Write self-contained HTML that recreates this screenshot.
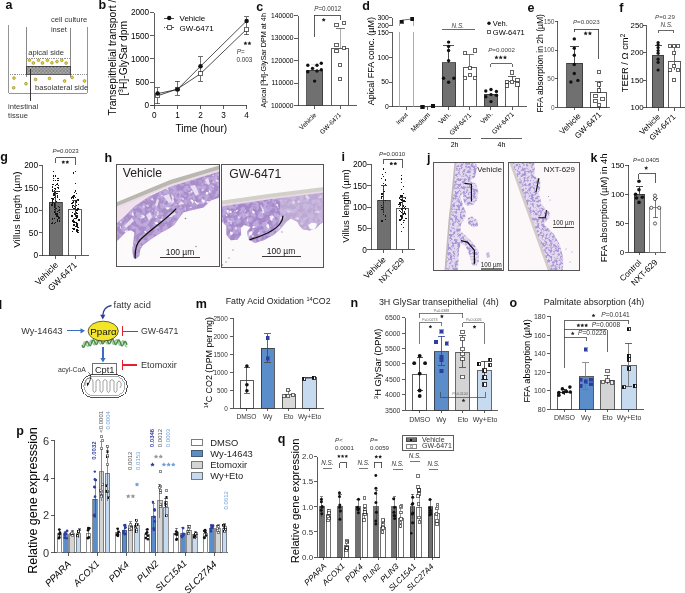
<!DOCTYPE html>
<html><head><meta charset="utf-8"><style>
html,body{margin:0;padding:0;background:#fff;}
svg{display:block;}
text{font-family:"Liberation Sans", sans-serif;}
line,polyline,rect{shape-rendering:crispEdges;}
.aa{shape-rendering:auto !important;}
svg{will-change:transform;}
</style></head><body>
<svg width="685" height="593" viewBox="0 0 685 593" font-family='"Liberation Sans", sans-serif'>
<defs>
<filter id="wsp" x="0" y="0" width="1" height="1" filterUnits="objectBoundingBox"><feTurbulence type="fractalNoise" baseFrequency="0.2" numOctaves="2" seed="3"/><feColorMatrix type="matrix" values="0 0 0 0 0.95  0 0 0 0 0.91  0 0 0 0 0.96  -7 0 0 0 2.6"/></filter>
<filter id="dsp" x="0" y="0" width="1" height="1" filterUnits="objectBoundingBox"><feTurbulence type="fractalNoise" baseFrequency="0.22" numOctaves="2" seed="9"/><feColorMatrix type="matrix" values="0 0 0 0 0.52  0 0 0 0 0.40  0 0 0 0 0.72  -5 0 0 0 2.95"/></filter>
<filter id="jsp" x="0" y="0" width="1" height="1" filterUnits="objectBoundingBox"><feTurbulence type="fractalNoise" baseFrequency="0.38" numOctaves="2" seed="5"/><feColorMatrix type="matrix" values="0 0 0 0 0.40  0 0 0 0 0.31  0 0 0 0 0.68  -6 0 0 0 3.3"/></filter>
<pattern id="mottleA" width="8" height="8" patternUnits="userSpaceOnUse" patternTransform="rotate(-25)"><rect width="8" height="8" fill="#b098cd"/><ellipse cx="2" cy="2" rx="1.8" ry="1.2" fill="#9c82c2"/><ellipse cx="6" cy="5.5" rx="1.6" ry="1" fill="#c4aed9"/><circle cx="6.8" cy="1.6" r="0.8" fill="#e4d8ec"/><circle cx="2.5" cy="6.5" r="0.9" fill="#a48ac6"/><circle cx="4.5" cy="3.5" r="0.5" fill="#ecdff0"/></pattern>
<pattern id="mottleB" width="4.5" height="4.5" patternUnits="userSpaceOnUse" patternTransform="rotate(15)"><rect width="4.5" height="4.5" fill="#a990ca"/><circle cx="1.3" cy="1.3" r="1.0" fill="#9074bc"/><circle cx="3.4" cy="3.3" r="0.8" fill="#e2d6ec"/><circle cx="3.9" cy="0.8" r="0.5" fill="#f0e8f3"/><circle cx="1.1" cy="3.9" r="0.5" fill="#c4aedb"/></pattern>
<pattern id="mottleC" width="4.5" height="4.5" patternUnits="userSpaceOnUse" patternTransform="rotate(15)"><rect width="4.5" height="4.5" fill="#d8c9e2"/><circle cx="1.3" cy="1.3" r="0.9" fill="#9e86ca"/><circle cx="3.4" cy="3.3" r="0.6" fill="#b4a0d6"/><circle cx="3.9" cy="0.8" r="0.5" fill="#f2eaf4"/></pattern>
<pattern id="speckle" width="5" height="5" patternUnits="userSpaceOnUse"><rect width="5" height="5" fill="#e2d9ee"/><circle cx="1.2" cy="1.3" r="0.9" fill="#7d6cc0"/><circle cx="3.8" cy="3.2" r="0.8" fill="#9a8cd0"/><circle cx="1.8" cy="4.2" r="0.5" fill="#a89cd6"/><circle cx="4.3" cy="0.6" r="0.45" fill="#8a7cc6"/></pattern>
<pattern id="hatch" width="1.4" height="1.4" patternUnits="userSpaceOnUse"><rect width="1.4" height="1.4" fill="#bdbdbd"/><rect width="0.7" height="0.7" fill="#6a6a6a"/><rect x="0.7" y="0.7" width="0.7" height="0.7" fill="#7a7a7a"/></pattern>
</defs>
<rect width="685" height="593" fill="#fff"/>
<text x="5.60" y="9.30" font-size="12.5" font-weight="bold" fill="#111">a</text>
<polyline points="8.90,25.00 8.90,93.10 87.30,93.10 87.30,27.20" stroke="#7a7a7a" stroke-width="0.8" fill="none"/>
<line x1="26.60" y1="27.30" x2="26.60" y2="77.30" stroke="#555" stroke-width="0.7"/>
<line x1="70.50" y1="28.20" x2="70.50" y2="77.20" stroke="#555" stroke-width="0.7"/>
<rect x="26.6" y="66.3" width="44" height="8.1" fill="url(#hatch)" stroke="#333" stroke-width="0.8"/>
<line x1="27.00" y1="58.50" x2="70.40" y2="58.50" stroke="#444" stroke-width="0.6" stroke-dasharray="1.1,1.1"/>
<line x1="10.00" y1="74.20" x2="26.50" y2="74.20" stroke="#444" stroke-width="0.6" stroke-dasharray="1.1,1.1"/>
<line x1="70.80" y1="74.20" x2="87.00" y2="74.20" stroke="#444" stroke-width="0.6" stroke-dasharray="1.1,1.1"/>
<line x1="30.20" y1="68.50" x2="30.20" y2="100.60" stroke="#222" stroke-width="0.9"/>
<circle cx="29.40" cy="60.20" r="1.4" fill="#e8d62a" stroke="#7a6e18" stroke-width="0.5"/>
<circle cx="33.40" cy="63.00" r="1.4" fill="#e8d62a" stroke="#7a6e18" stroke-width="0.5"/>
<circle cx="38.50" cy="60.20" r="1.4" fill="#e8d62a" stroke="#7a6e18" stroke-width="0.5"/>
<circle cx="42.50" cy="63.00" r="1.4" fill="#e8d62a" stroke="#7a6e18" stroke-width="0.5"/>
<circle cx="47.40" cy="60.30" r="1.4" fill="#e8d62a" stroke="#7a6e18" stroke-width="0.5"/>
<circle cx="51.90" cy="62.80" r="1.4" fill="#e8d62a" stroke="#7a6e18" stroke-width="0.5"/>
<circle cx="57.00" cy="61.60" r="1.4" fill="#e8d62a" stroke="#7a6e18" stroke-width="0.5"/>
<circle cx="61.80" cy="60.30" r="1.4" fill="#e8d62a" stroke="#7a6e18" stroke-width="0.5"/>
<circle cx="66.10" cy="63.10" r="1.4" fill="#e8d62a" stroke="#7a6e18" stroke-width="0.5"/>
<circle cx="14.00" cy="78.10" r="1.4" fill="#e8d62a" stroke="#7a6e18" stroke-width="0.5"/>
<circle cx="26.00" cy="83.70" r="1.4" fill="#e8d62a" stroke="#7a6e18" stroke-width="0.5"/>
<circle cx="13.70" cy="87.80" r="1.4" fill="#e8d62a" stroke="#7a6e18" stroke-width="0.5"/>
<circle cx="35.60" cy="79.40" r="1.4" fill="#e8d62a" stroke="#7a6e18" stroke-width="0.5"/>
<circle cx="49.50" cy="78.40" r="1.4" fill="#e8d62a" stroke="#7a6e18" stroke-width="0.5"/>
<circle cx="64.60" cy="81.00" r="1.4" fill="#e8d62a" stroke="#7a6e18" stroke-width="0.5"/>
<circle cx="72.10" cy="77.40" r="1.4" fill="#e8d62a" stroke="#7a6e18" stroke-width="0.5"/>
<circle cx="84.50" cy="81.00" r="1.4" fill="#e8d62a" stroke="#7a6e18" stroke-width="0.5"/>
<text x="50.90" y="22.40" font-size="7.6" fill="#333">cell culture</text>
<text x="50.90" y="31.50" font-size="7.6" fill="#333">inset</text>
<text x="28.20" y="54.50" font-size="7.6" fill="#333">apical side</text>
<text x="35.00" y="89.60" font-size="7.6" fill="#333">basolateral side</text>
<text x="8.10" y="108.90" font-size="7.6" fill="#333">intestinal</text>
<text x="8.10" y="117.60" font-size="7.6" fill="#333">tissue</text>
<text x="98.50" y="9.30" font-size="12.5" font-weight="bold" fill="#111">b</text>
<line x1="154.40" y1="12.50" x2="154.40" y2="105.30" stroke="#333" stroke-width="0.8"/>
<line x1="149.90" y1="105.30" x2="154.40" y2="105.30" stroke="#333" stroke-width="0.8"/>
<text x="149.10" y="108.25" font-size="8.2" text-anchor="end">0</text>
<line x1="149.90" y1="82.10" x2="154.40" y2="82.10" stroke="#333" stroke-width="0.8"/>
<text x="149.10" y="85.05" font-size="8.2" text-anchor="end">500</text>
<line x1="149.90" y1="58.90" x2="154.40" y2="58.90" stroke="#333" stroke-width="0.8"/>
<text x="149.10" y="61.85" font-size="8.2" text-anchor="end">1000</text>
<line x1="149.90" y1="35.70" x2="154.40" y2="35.70" stroke="#333" stroke-width="0.8"/>
<text x="149.10" y="38.65" font-size="8.2" text-anchor="end">1500</text>
<line x1="149.90" y1="12.50" x2="154.40" y2="12.50" stroke="#333" stroke-width="0.8"/>
<text x="149.10" y="15.45" font-size="8.2" text-anchor="end">2000</text>
<line x1="151.00" y1="105.30" x2="247.40" y2="105.30" stroke="#333" stroke-width="0.8"/>
<line x1="154.40" y1="105.30" x2="154.40" y2="108.90" stroke="#333" stroke-width="0.8"/>
<text x="154.40" y="118.30" font-size="8.2" text-anchor="middle">0</text>
<line x1="177.45" y1="105.30" x2="177.45" y2="108.90" stroke="#333" stroke-width="0.8"/>
<text x="177.45" y="118.30" font-size="8.2" text-anchor="middle">1</text>
<line x1="200.50" y1="105.30" x2="200.50" y2="108.90" stroke="#333" stroke-width="0.8"/>
<text x="200.50" y="118.30" font-size="8.2" text-anchor="middle">2</text>
<line x1="223.55" y1="105.30" x2="223.55" y2="108.90" stroke="#333" stroke-width="0.8"/>
<text x="223.55" y="118.30" font-size="8.2" text-anchor="middle">3</text>
<line x1="246.60" y1="105.30" x2="246.60" y2="108.90" stroke="#333" stroke-width="0.8"/>
<text x="246.60" y="118.30" font-size="8.2" text-anchor="middle">4</text>
<text x="201.30" y="132.40" font-size="10.1" text-anchor="middle">Time (hour)</text>
<text x="0.00" y="0.00" font-size="10.3" transform="translate(115.60,115.50) rotate(-90)">Transepithelial transport /</text>
<text x="0.00" y="0.00" font-size="10.3" transform="translate(126.80,95.50) rotate(-90)">[<tspan font-size="6.5" dy="-3.5">3</tspan><tspan dy="3.5">H]-GlySar dpm</tspan></text>
<polyline points="157.63,93.60 177.45,89.40 200.50,66.30 246.60,20.90" stroke="#222" stroke-width="0.8" fill="none" class="aa"/>
<polyline points="157.63,95.80 177.45,89.00 200.50,73.70 246.60,29.30" stroke="#222" stroke-width="0.8" fill="none" class="aa"/>
<line x1="157.63" y1="87.70" x2="157.63" y2="103.50" stroke="#333" stroke-width="0.7"/>
<line x1="155.43" y1="87.70" x2="159.83" y2="87.70" stroke="#333" stroke-width="0.7"/>
<line x1="155.43" y1="103.50" x2="159.83" y2="103.50" stroke="#333" stroke-width="0.7"/>
<line x1="177.45" y1="81.40" x2="177.45" y2="95.30" stroke="#333" stroke-width="0.7"/>
<line x1="175.25" y1="81.40" x2="179.65" y2="81.40" stroke="#333" stroke-width="0.7"/>
<line x1="175.25" y1="95.30" x2="179.65" y2="95.30" stroke="#333" stroke-width="0.7"/>
<line x1="200.50" y1="56.50" x2="200.50" y2="81.40" stroke="#333" stroke-width="0.7"/>
<line x1="198.30" y1="56.50" x2="202.70" y2="56.50" stroke="#333" stroke-width="0.7"/>
<line x1="198.30" y1="81.40" x2="202.70" y2="81.40" stroke="#333" stroke-width="0.7"/>
<line x1="246.60" y1="16.50" x2="246.60" y2="34.60" stroke="#333" stroke-width="0.7"/>
<line x1="244.40" y1="16.50" x2="248.80" y2="16.50" stroke="#333" stroke-width="0.7"/>
<line x1="244.40" y1="34.60" x2="248.80" y2="34.60" stroke="#333" stroke-width="0.7"/>
<rect x="155.68" y="93.85" width="3.9" height="3.9" fill="#fff" stroke="#333" stroke-width="0.75"/>
<rect x="175.50" y="87.05" width="3.9" height="3.9" fill="#fff" stroke="#333" stroke-width="0.75"/>
<rect x="198.55" y="71.75" width="3.9" height="3.9" fill="#fff" stroke="#333" stroke-width="0.75"/>
<rect x="244.65" y="27.35" width="3.9" height="3.9" fill="#fff" stroke="#333" stroke-width="0.75"/>
<circle cx="157.63" cy="93.60" r="2.25" fill="#111" stroke="none" stroke-width="0.6"/>
<circle cx="177.45" cy="89.40" r="2.25" fill="#111" stroke="none" stroke-width="0.6"/>
<circle cx="200.50" cy="66.30" r="2.25" fill="#111" stroke="none" stroke-width="0.6"/>
<circle cx="246.60" cy="20.90" r="2.25" fill="#111" stroke="none" stroke-width="0.6"/>
<line x1="164.30" y1="18.00" x2="173.60" y2="18.00" stroke="#222" stroke-width="0.8"/>
<circle cx="169.20" cy="18.00" r="2.2" fill="#111" stroke="none" stroke-width="0.6"/>
<line x1="164.30" y1="27.80" x2="173.60" y2="27.80" stroke="#222" stroke-width="0.8" stroke-dasharray="1,0.8"/>
<rect x="167.30" y="25.90" width="3.8" height="3.8" fill="#fff" stroke="#222" stroke-width="0.7"/>
<text x="179.50" y="21.00" font-size="8.0">Vehicle</text>
<text x="179.50" y="30.80" font-size="8.0">GW-6471</text>
<polygon points="245.45,41.35 246.05,42.57 247.41,42.77 246.43,43.72 246.66,45.07 245.45,44.44 244.24,45.07 244.47,43.72 243.49,42.77 244.84,42.57" fill="#222"/>
<polygon points="249.45,41.35 250.06,42.57 251.41,42.77 250.43,43.72 250.66,45.07 249.45,44.44 248.24,45.07 248.47,43.72 247.49,42.77 248.85,42.57" fill="#222"/>
<text x="236.80" y="54.40" font-size="6.3" fill="#333"><tspan font-style="italic">P</tspan>=</text>
<text x="236.60" y="62.30" font-size="6.3" fill="#333">0.003</text>
<text x="256.30" y="10.50" font-size="12.5" font-weight="bold" fill="#111">c</text>
<line x1="298.00" y1="15.50" x2="298.00" y2="105.50" stroke="#333" stroke-width="0.8"/>
<line x1="294.00" y1="105.50" x2="298.00" y2="105.50" stroke="#333" stroke-width="0.8"/>
<text x="293.40" y="107.91" font-size="6.7" text-anchor="end">100000</text>
<line x1="294.00" y1="83.00" x2="298.00" y2="83.00" stroke="#333" stroke-width="0.8"/>
<text x="293.40" y="85.41" font-size="6.7" text-anchor="end">110000</text>
<line x1="294.00" y1="60.50" x2="298.00" y2="60.50" stroke="#333" stroke-width="0.8"/>
<text x="293.40" y="62.91" font-size="6.7" text-anchor="end">120000</text>
<line x1="294.00" y1="38.00" x2="298.00" y2="38.00" stroke="#333" stroke-width="0.8"/>
<text x="293.40" y="40.41" font-size="6.7" text-anchor="end">130000</text>
<line x1="294.00" y1="15.50" x2="298.00" y2="15.50" stroke="#333" stroke-width="0.8"/>
<text x="293.40" y="17.91" font-size="6.7" text-anchor="end">140000</text>
<line x1="298.00" y1="105.50" x2="357.00" y2="105.50" stroke="#333" stroke-width="0.8"/>
<line x1="314.50" y1="105.50" x2="314.50" y2="108.90" stroke="#333" stroke-width="0.8"/>
<line x1="340.30" y1="105.50" x2="340.30" y2="108.90" stroke="#333" stroke-width="0.8"/>
<rect x="306.50" y="70.18" width="16.30" height="35.32" fill="#707070" stroke="#333" stroke-width="0.8"/>
<rect x="331.20" y="48.40" width="17.50" height="57.10" fill="#fff" stroke="#333" stroke-width="0.8"/>
<line x1="314.50" y1="64.60" x2="314.50" y2="70.40" stroke="#ddd" stroke-width="0.7"/>
<line x1="310.90" y1="64.60" x2="318.10" y2="64.60" stroke="#ddd" stroke-width="0.7"/>
<line x1="340.30" y1="28.20" x2="340.30" y2="48.40" stroke="#999" stroke-width="0.8"/>
<line x1="336.00" y1="28.20" x2="344.70" y2="28.20" stroke="#555" stroke-width="0.8"/>
<circle cx="307.80" cy="65.30" r="1.7" fill="#111" stroke="none" stroke-width="0.6"/>
<circle cx="317.00" cy="65.30" r="1.7" fill="#111" stroke="none" stroke-width="0.6"/>
<circle cx="321.30" cy="63.30" r="1.7" fill="#111" stroke="none" stroke-width="0.6"/>
<circle cx="312.50" cy="68.40" r="1.7" fill="#111" stroke="none" stroke-width="0.6"/>
<circle cx="307.80" cy="71.70" r="1.7" fill="#111" stroke="none" stroke-width="0.6"/>
<circle cx="317.00" cy="71.00" r="1.7" fill="#111" stroke="none" stroke-width="0.6"/>
<circle cx="321.30" cy="69.80" r="1.7" fill="#111" stroke="none" stroke-width="0.6"/>
<circle cx="314.60" cy="81.10" r="1.7" fill="#111" stroke="none" stroke-width="0.6"/>
<rect x="334.95" y="23.55" width="3.3" height="3.3" fill="#fff" stroke="#222" stroke-width="0.7"/>
<rect x="342.05" y="21.55" width="3.3" height="3.3" fill="#fff" stroke="#222" stroke-width="0.7"/>
<rect x="334.95" y="43.45" width="3.3" height="3.3" fill="#fff" stroke="#222" stroke-width="0.7"/>
<rect x="334.95" y="49.55" width="3.3" height="3.3" fill="#fff" stroke="#222" stroke-width="0.7"/>
<rect x="342.05" y="46.55" width="3.3" height="3.3" fill="#fff" stroke="#222" stroke-width="0.7"/>
<rect x="338.55" y="63.05" width="3.3" height="3.3" fill="#fff" stroke="#222" stroke-width="0.7"/>
<rect x="338.55" y="77.55" width="3.3" height="3.3" fill="#fff" stroke="#222" stroke-width="0.7"/>
<polyline points="314.40,36.70 314.40,15.30 340.30,15.30 340.30,19.70" stroke="#333" stroke-width="0.8" fill="none"/>
<polygon points="323.70,17.66 324.33,18.94 325.75,19.15 324.73,20.15 324.97,21.56 323.70,20.90 322.43,21.56 322.67,20.15 321.65,19.15 323.07,18.94" fill="#222"/>
<text x="314.20" y="10.90" font-size="6.3" fill="#333"><tspan font-style="italic">P</tspan>=0.0012</text>
<text x="0.00" y="0.00" font-size="7.25" transform="translate(266.30,107.60) rotate(-90)">Apical [<tspan font-size="4.8" dy="-2.6">3</tspan><tspan dy="2.6">H]-GlySar DPM at 4h</tspan></text>
<text x="0.00" y="0.00" font-size="6.54" text-anchor="end" transform="translate(316.75,115.39) rotate(-45)">Vehicle</text>
<text x="0.00" y="0.00" font-size="6.35" text-anchor="end" transform="translate(341.63,115.29) rotate(-45)">GW-6471</text>
<text x="362.20" y="10.40" font-size="12.5" font-weight="bold" fill="#111">d</text>
<line x1="392.10" y1="32.40" x2="392.10" y2="106.80" stroke="#333" stroke-width="0.8"/>
<line x1="388.50" y1="106.80" x2="392.10" y2="106.80" stroke="#333" stroke-width="0.8"/>
<text x="388.90" y="109.25" font-size="6.8" text-anchor="end">0</text>
<line x1="388.50" y1="82.00" x2="392.10" y2="82.00" stroke="#333" stroke-width="0.8"/>
<text x="388.90" y="84.45" font-size="6.8" text-anchor="end">50</text>
<line x1="388.50" y1="57.20" x2="392.10" y2="57.20" stroke="#333" stroke-width="0.8"/>
<text x="388.90" y="59.65" font-size="6.8" text-anchor="end">100</text>
<line x1="388.50" y1="32.40" x2="392.10" y2="32.40" stroke="#333" stroke-width="0.8"/>
<text x="388.90" y="34.85" font-size="6.8" text-anchor="end">150</text>
<line x1="392.10" y1="17.50" x2="392.10" y2="25.60" stroke="#333" stroke-width="0.8"/>
<line x1="388.50" y1="17.50" x2="392.10" y2="17.50" stroke="#333" stroke-width="0.8"/>
<line x1="388.50" y1="25.60" x2="392.10" y2="25.60" stroke="#333" stroke-width="0.8"/>
<text x="388.90" y="19.90" font-size="6.8" text-anchor="end">300</text>
<text x="388.90" y="28.00" font-size="6.8" text-anchor="end">200</text>
<line x1="392.10" y1="106.80" x2="527.00" y2="106.80" stroke="#333" stroke-width="0.8"/>
<line x1="406.60" y1="106.80" x2="406.60" y2="109.80" stroke="#333" stroke-width="0.8"/>
<line x1="427.50" y1="106.80" x2="427.50" y2="109.80" stroke="#333" stroke-width="0.8"/>
<line x1="448.60" y1="106.80" x2="448.60" y2="109.80" stroke="#333" stroke-width="0.8"/>
<line x1="469.80" y1="106.80" x2="469.80" y2="109.80" stroke="#333" stroke-width="0.8"/>
<line x1="490.90" y1="106.80" x2="490.90" y2="109.80" stroke="#333" stroke-width="0.8"/>
<line x1="512.00" y1="106.80" x2="512.00" y2="109.80" stroke="#333" stroke-width="0.8"/>
<line x1="399.60" y1="20.20" x2="399.60" y2="25.60" stroke="#999" stroke-width="0.8"/>
<line x1="413.50" y1="20.20" x2="413.50" y2="25.60" stroke="#999" stroke-width="0.8"/>
<line x1="399.60" y1="32.40" x2="399.60" y2="106.80" stroke="#999" stroke-width="0.8"/>
<line x1="413.50" y1="32.40" x2="413.50" y2="106.80" stroke="#999" stroke-width="0.8"/>
<line x1="401.60" y1="20.20" x2="412.20" y2="19.00" stroke="#333" stroke-width="0.7" class="aa"/>
<rect x="400.00" y="20.00" width="3.2" height="3.2" fill="#111" stroke="#111" stroke-width="0.7"/>
<rect x="410.60" y="17.30" width="3.2" height="3.2" fill="#111" stroke="#111" stroke-width="0.7"/>
<line x1="422.50" y1="107.00" x2="432.90" y2="106.00" stroke="#333" stroke-width="0.6" class="aa"/>
<rect x="420.90" y="105.40" width="3.2" height="3.2" fill="#111" stroke="#111" stroke-width="0.7"/>
<rect x="431.30" y="104.30" width="3.2" height="3.2" fill="#111" stroke="#111" stroke-width="0.7"/>
<rect x="442.20" y="62.50" width="13.40" height="44.30" fill="#707070" stroke="#333" stroke-width="0.8"/>
<line x1="448.60" y1="45.80" x2="448.60" y2="62.50" stroke="#222" stroke-width="0.8"/>
<line x1="443.40" y1="45.80" x2="453.80" y2="45.80" stroke="#222" stroke-width="0.8"/>
<circle cx="448.60" cy="42.10" r="1.7" fill="#111" stroke="none" stroke-width="0.6"/>
<circle cx="448.60" cy="46.40" r="1.7" fill="#111" stroke="none" stroke-width="0.6"/>
<circle cx="448.60" cy="50.50" r="1.7" fill="#111" stroke="none" stroke-width="0.6"/>
<circle cx="448.60" cy="60.60" r="1.7" fill="#111" stroke="none" stroke-width="0.6"/>
<circle cx="443.50" cy="78.20" r="1.7" fill="#111" stroke="none" stroke-width="0.6"/>
<circle cx="448.60" cy="82.20" r="1.7" fill="#111" stroke="none" stroke-width="0.6"/>
<circle cx="453.90" cy="78.20" r="1.7" fill="#111" stroke="none" stroke-width="0.6"/>
<rect x="463.10" y="67.30" width="13.50" height="39.50" fill="#fff" stroke="#333" stroke-width="0.8"/>
<line x1="469.80" y1="54.50" x2="469.80" y2="67.30" stroke="#555" stroke-width="0.8"/>
<line x1="465.30" y1="54.50" x2="474.30" y2="54.50" stroke="#555" stroke-width="0.8"/>
<rect x="463.10" y="51.30" width="3.2" height="3.2" fill="#fff" stroke="#222" stroke-width="0.7"/>
<rect x="473.60" y="48.90" width="3.2" height="3.2" fill="#fff" stroke="#222" stroke-width="0.7"/>
<rect x="468.20" y="66.20" width="3.2" height="3.2" fill="#fff" stroke="#222" stroke-width="0.7"/>
<rect x="468.20" y="73.20" width="3.2" height="3.2" fill="#fff" stroke="#222" stroke-width="0.7"/>
<rect x="463.10" y="76.60" width="3.2" height="3.2" fill="#fff" stroke="#222" stroke-width="0.7"/>
<rect x="473.60" y="76.60" width="3.2" height="3.2" fill="#fff" stroke="#222" stroke-width="0.7"/>
<rect x="484.30" y="94.20" width="13.30" height="12.60" fill="#707070" stroke="#333" stroke-width="0.8"/>
<circle cx="485.80" cy="91.00" r="1.7" fill="#111" stroke="none" stroke-width="0.6"/>
<circle cx="491.00" cy="89.50" r="1.7" fill="#111" stroke="none" stroke-width="0.6"/>
<circle cx="496.40" cy="91.40" r="1.7" fill="#111" stroke="none" stroke-width="0.6"/>
<circle cx="485.80" cy="96.80" r="1.7" fill="#111" stroke="none" stroke-width="0.6"/>
<circle cx="491.00" cy="94.60" r="1.7" fill="#111" stroke="none" stroke-width="0.6"/>
<circle cx="496.40" cy="95.30" r="1.7" fill="#111" stroke="none" stroke-width="0.6"/>
<circle cx="491.00" cy="101.60" r="1.7" fill="#111" stroke="none" stroke-width="0.6"/>
<rect x="505.50" y="81.00" width="13.40" height="25.80" fill="#fff" stroke="#333" stroke-width="0.8"/>
<line x1="512.00" y1="76.20" x2="512.00" y2="81.00" stroke="#333" stroke-width="0.8"/>
<line x1="508.00" y1="76.20" x2="516.00" y2="76.20" stroke="#333" stroke-width="0.8"/>
<rect x="510.40" y="70.80" width="3.2" height="3.2" fill="#fff" stroke="#222" stroke-width="0.7"/>
<rect x="505.30" y="80.40" width="3.2" height="3.2" fill="#fff" stroke="#222" stroke-width="0.7"/>
<rect x="510.40" y="80.40" width="3.2" height="3.2" fill="#fff" stroke="#222" stroke-width="0.7"/>
<rect x="515.80" y="78.40" width="3.2" height="3.2" fill="#fff" stroke="#222" stroke-width="0.7"/>
<rect x="505.30" y="83.90" width="3.2" height="3.2" fill="#fff" stroke="#222" stroke-width="0.7"/>
<rect x="515.80" y="82.90" width="3.2" height="3.2" fill="#fff" stroke="#222" stroke-width="0.7"/>
<text x="451.60" y="27.50" font-size="6.4" font-style="italic" fill="#444">N.S.</text>
<line x1="441.90" y1="29.30" x2="474.50" y2="29.30" stroke="#444" stroke-width="0.8"/>
<circle cx="489.00" cy="23.20" r="1.7" fill="#111" stroke="none" stroke-width="0.6"/>
<text x="492.80" y="25.90" font-size="7.5">Veh.</text>
<rect x="487.50" y="30.10" width="3.0" height="3.0" fill="#fff" stroke="#222" stroke-width="0.7"/>
<text x="492.80" y="34.70" font-size="7.5">GW-6471</text>
<text x="488.20" y="51.90" font-size="6.2" fill="#444"><tspan font-style="italic">P</tspan>=0.0002</text>
<polygon points="496.42,55.32 497.07,56.63 498.51,56.84 497.47,57.86 497.71,59.30 496.42,58.62 495.13,59.30 495.37,57.86 494.33,56.84 495.77,56.63" fill="#222"/>
<polygon points="500.70,55.32 501.35,56.63 502.79,56.84 501.75,57.86 501.99,59.30 500.70,58.62 499.41,59.30 499.65,57.86 498.61,56.84 500.05,56.63" fill="#222"/>
<polygon points="504.98,55.32 505.63,56.63 507.07,56.84 506.03,57.86 506.27,59.30 504.98,58.62 503.69,59.30 503.93,57.86 502.89,56.84 504.33,56.63" fill="#222"/>
<polyline points="490.60,66.80 490.60,63.60 512.30,63.60 512.30,66.80" stroke="#444" stroke-width="0.8" fill="none"/>
<text x="0.00" y="0.00" font-size="9.0" transform="translate(374.20,105.30) rotate(-90)">Apical FFA conc. (µM)</text>
<text x="0.00" y="0.00" font-size="6.17" text-anchor="end" transform="translate(408.24,115.32) rotate(-45)">Input</text>
<text x="0.00" y="0.00" font-size="6.79" text-anchor="end" transform="translate(430.62,115.28) rotate(-45)">Medium</text>
<text x="0.00" y="0.00" font-size="6.97" text-anchor="end" transform="translate(451.20,114.81) rotate(-45)">Veh.</text>
<text x="0.00" y="0.00" font-size="6.64" text-anchor="end" transform="translate(471.84,115.60) rotate(-45)">GW-6471</text>
<text x="0.00" y="0.00" font-size="6.89" text-anchor="end" transform="translate(493.10,114.43) rotate(-45)">Veh.</text>
<text x="0.00" y="0.00" font-size="6.59" text-anchor="end" transform="translate(514.27,114.59) rotate(-45)">GW-6471</text>
<line x1="438.00" y1="138.40" x2="470.90" y2="138.40" stroke="#333" stroke-width="0.8"/>
<line x1="481.10" y1="138.40" x2="521.70" y2="138.40" stroke="#333" stroke-width="0.8"/>
<text x="454.60" y="147.30" font-size="7.0" text-anchor="middle">2h</text>
<text x="501.40" y="147.30" font-size="7.0" text-anchor="middle">4h</text>
<text x="527.40" y="11.60" font-size="12.5" font-weight="bold" fill="#111">e</text>
<line x1="557.60" y1="21.30" x2="557.60" y2="107.40" stroke="#333" stroke-width="0.8"/>
<line x1="555.00" y1="107.40" x2="557.60" y2="107.40" stroke="#333" stroke-width="0.8"/>
<text x="554.50" y="109.74" font-size="6.5" text-anchor="end" fill="#555">0</text>
<line x1="555.00" y1="78.70" x2="557.60" y2="78.70" stroke="#333" stroke-width="0.8"/>
<text x="554.50" y="81.04" font-size="6.5" text-anchor="end" fill="#555">50</text>
<line x1="555.00" y1="50.00" x2="557.60" y2="50.00" stroke="#333" stroke-width="0.8"/>
<text x="554.50" y="52.34" font-size="6.5" text-anchor="end" fill="#555">100</text>
<line x1="555.00" y1="21.30" x2="557.60" y2="21.30" stroke="#333" stroke-width="0.8"/>
<text x="554.50" y="23.64" font-size="6.5" text-anchor="end" fill="#555">150</text>
<line x1="557.60" y1="107.40" x2="609.80" y2="107.40" stroke="#333" stroke-width="0.8"/>
<line x1="574.30" y1="107.40" x2="574.30" y2="110.40" stroke="#333" stroke-width="0.8"/>
<line x1="599.10" y1="107.40" x2="599.10" y2="110.40" stroke="#333" stroke-width="0.8"/>
<rect x="566.50" y="63.40" width="16.00" height="44.00" fill="#707070" stroke="#333" stroke-width="0.8"/>
<line x1="574.30" y1="46.60" x2="574.30" y2="63.40" stroke="#222" stroke-width="0.8"/>
<line x1="569.90" y1="46.60" x2="578.70" y2="46.60" stroke="#222" stroke-width="0.8"/>
<circle cx="574.30" cy="38.90" r="1.7" fill="#111" stroke="none" stroke-width="0.6"/>
<circle cx="574.30" cy="48.30" r="1.7" fill="#111" stroke="none" stroke-width="0.6"/>
<circle cx="574.30" cy="55.30" r="1.7" fill="#111" stroke="none" stroke-width="0.6"/>
<circle cx="574.30" cy="64.50" r="1.7" fill="#111" stroke="none" stroke-width="0.6"/>
<circle cx="574.30" cy="73.50" r="1.7" fill="#111" stroke="none" stroke-width="0.6"/>
<circle cx="570.90" cy="82.00" r="1.7" fill="#111" stroke="none" stroke-width="0.6"/>
<circle cx="577.90" cy="80.40" r="1.7" fill="#111" stroke="none" stroke-width="0.6"/>
<rect x="590.30" y="92.50" width="16.50" height="14.90" fill="#fff" stroke="#333" stroke-width="0.8"/>
<line x1="599.10" y1="81.00" x2="599.10" y2="92.50" stroke="#555" stroke-width="0.8"/>
<line x1="595.10" y1="81.00" x2="603.10" y2="81.00" stroke="#555" stroke-width="0.8"/>
<rect x="597.50" y="70.00" width="3.2" height="3.2" fill="#fff" stroke="#222" stroke-width="0.7"/>
<rect x="597.50" y="82.80" width="3.2" height="3.2" fill="#fff" stroke="#222" stroke-width="0.7"/>
<rect x="597.50" y="88.90" width="3.2" height="3.2" fill="#fff" stroke="#222" stroke-width="0.7"/>
<rect x="593.90" y="94.30" width="3.2" height="3.2" fill="#fff" stroke="#222" stroke-width="0.7"/>
<rect x="600.90" y="97.00" width="3.2" height="3.2" fill="#fff" stroke="#222" stroke-width="0.7"/>
<rect x="593.90" y="99.00" width="3.2" height="3.2" fill="#fff" stroke="#222" stroke-width="0.7"/>
<rect x="597.50" y="103.10" width="3.2" height="3.2" fill="#fff" stroke="#222" stroke-width="0.7"/>
<polyline points="574.30,32.40 574.30,29.00 598.60,29.00 598.60,59.40" stroke="#333" stroke-width="0.8" fill="none"/>
<polygon points="585.66,31.22 586.31,32.53 587.75,32.74 586.71,33.76 586.95,35.20 585.66,34.52 584.37,35.20 584.61,33.76 583.57,32.74 585.01,32.53" fill="#222"/>
<polygon points="589.94,31.22 590.59,32.53 592.03,32.74 590.99,33.76 591.23,35.20 589.94,34.52 588.65,35.20 588.89,33.76 587.85,32.74 589.29,32.53" fill="#222"/>
<text x="572.90" y="24.30" font-size="6.2" fill="#444"><tspan font-style="italic">P</tspan>=0.0023</text>
<text x="0.00" y="0.00" font-size="8.55" transform="translate(542.60,112.60) rotate(-90)">FFA absorption in 2h (µM)</text>
<text x="0.00" y="0.00" font-size="8.12" text-anchor="end" transform="translate(581.22,116.55) rotate(-45)">Vehicle</text>
<text x="0.00" y="0.00" font-size="7.96" text-anchor="end" transform="translate(601.92,115.02) rotate(-45)">GW-6471</text>
<text x="619.30" y="11.60" font-size="12.5" font-weight="bold" fill="#111">f</text>
<line x1="646.30" y1="25.00" x2="646.30" y2="107.50" stroke="#333" stroke-width="0.8"/>
<line x1="642.70" y1="107.50" x2="646.30" y2="107.50" stroke="#333" stroke-width="0.8"/>
<text x="643.60" y="110.31" font-size="7.8" text-anchor="end">100</text>
<line x1="642.70" y1="80.00" x2="646.30" y2="80.00" stroke="#333" stroke-width="0.8"/>
<text x="643.60" y="82.81" font-size="7.8" text-anchor="end">150</text>
<line x1="642.70" y1="52.50" x2="646.30" y2="52.50" stroke="#333" stroke-width="0.8"/>
<text x="643.60" y="55.31" font-size="7.8" text-anchor="end">200</text>
<line x1="642.70" y1="25.00" x2="646.30" y2="25.00" stroke="#333" stroke-width="0.8"/>
<text x="643.60" y="27.81" font-size="7.8" text-anchor="end">250</text>
<line x1="646.30" y1="107.50" x2="685.00" y2="107.50" stroke="#333" stroke-width="0.8"/>
<line x1="658.10" y1="107.50" x2="658.10" y2="110.50" stroke="#333" stroke-width="0.8"/>
<line x1="674.20" y1="107.50" x2="674.20" y2="110.50" stroke="#333" stroke-width="0.8"/>
<rect x="652.40" y="55.10" width="11.20" height="52.40" fill="#707070" stroke="#333" stroke-width="0.8"/>
<line x1="658.10" y1="45.50" x2="658.10" y2="55.10" stroke="#222" stroke-width="0.8"/>
<line x1="654.50" y1="45.50" x2="661.70" y2="45.50" stroke="#222" stroke-width="0.8"/>
<circle cx="658.10" cy="42.50" r="1.6" fill="#111" stroke="none" stroke-width="0.6"/>
<circle cx="658.10" cy="44.80" r="1.6" fill="#111" stroke="none" stroke-width="0.6"/>
<circle cx="658.10" cy="47.60" r="1.6" fill="#111" stroke="none" stroke-width="0.6"/>
<circle cx="658.10" cy="50.50" r="1.6" fill="#111" stroke="none" stroke-width="0.6"/>
<circle cx="658.10" cy="53.20" r="1.6" fill="#111" stroke="none" stroke-width="0.6"/>
<circle cx="658.10" cy="59.20" r="1.6" fill="#111" stroke="none" stroke-width="0.6"/>
<circle cx="658.10" cy="62.30" r="1.6" fill="#111" stroke="none" stroke-width="0.6"/>
<circle cx="658.10" cy="70.00" r="1.6" fill="#111" stroke="none" stroke-width="0.6"/>
<rect x="668.60" y="61.70" width="11.40" height="45.80" fill="#fff" stroke="#333" stroke-width="0.8"/>
<line x1="674.10" y1="46.40" x2="674.10" y2="61.70" stroke="#555" stroke-width="0.8"/>
<line x1="670.50" y1="46.40" x2="677.70" y2="46.40" stroke="#555" stroke-width="0.8"/>
<line x1="674.10" y1="61.70" x2="674.10" y2="70.00" stroke="#555" stroke-width="0.8"/>
<rect x="668.30" y="44.90" width="3.0" height="3.0" fill="#fff" stroke="#222" stroke-width="0.7"/>
<rect x="672.50" y="44.90" width="3.0" height="3.0" fill="#fff" stroke="#222" stroke-width="0.7"/>
<rect x="676.70" y="44.90" width="3.0" height="3.0" fill="#fff" stroke="#222" stroke-width="0.7"/>
<rect x="672.50" y="51.10" width="3.0" height="3.0" fill="#fff" stroke="#222" stroke-width="0.7"/>
<rect x="668.30" y="68.00" width="3.0" height="3.0" fill="#fff" stroke="#222" stroke-width="0.7"/>
<rect x="676.70" y="68.50" width="3.0" height="3.0" fill="#fff" stroke="#222" stroke-width="0.7"/>
<rect x="672.50" y="64.50" width="3.0" height="3.0" fill="#fff" stroke="#222" stroke-width="0.7"/>
<rect x="672.50" y="78.50" width="3.0" height="3.0" fill="#fff" stroke="#222" stroke-width="0.7"/>
<polyline points="658.70,33.10 658.70,30.10 673.40,30.10 673.40,33.10" stroke="#444" stroke-width="0.8" fill="none"/>
<text x="655.10" y="18.90" font-size="6.2" fill="#444"><tspan font-style="italic">P</tspan>=0.29</text>
<text x="666.60" y="26.60" font-size="6.4" text-anchor="middle" font-style="italic" fill="#444">N.S.</text>
<text x="0.00" y="0.00" font-size="9.4" transform="translate(628.40,92.30) rotate(-90)">TEER / Ω cm<tspan font-size="6.5" dy="-3.5">2</tspan></text>
<text x="0.00" y="0.00" font-size="7.92" text-anchor="end" transform="translate(660.72,117.27) rotate(-45)">Vehicle</text>
<text x="0.00" y="0.00" font-size="7.79" text-anchor="end" transform="translate(675.97,117.32) rotate(-45)">GW-6471</text>
<text x="0.30" y="160.60" font-size="12.5" font-weight="bold" fill="#111">g</text>
<line x1="42.20" y1="165.30" x2="42.20" y2="255.50" stroke="#333" stroke-width="0.8"/>
<line x1="38.60" y1="255.50" x2="42.20" y2="255.50" stroke="#333" stroke-width="0.8"/>
<text x="38.00" y="258.49" font-size="8.3" text-anchor="end">0</text>
<line x1="38.60" y1="232.95" x2="42.20" y2="232.95" stroke="#333" stroke-width="0.8"/>
<text x="38.00" y="235.94" font-size="8.3" text-anchor="end">50</text>
<line x1="38.60" y1="210.40" x2="42.20" y2="210.40" stroke="#333" stroke-width="0.8"/>
<text x="38.00" y="213.39" font-size="8.3" text-anchor="end">100</text>
<line x1="38.60" y1="187.85" x2="42.20" y2="187.85" stroke="#333" stroke-width="0.8"/>
<text x="38.00" y="190.84" font-size="8.3" text-anchor="end">150</text>
<line x1="38.60" y1="165.30" x2="42.20" y2="165.30" stroke="#333" stroke-width="0.8"/>
<text x="38.00" y="168.29" font-size="8.3" text-anchor="end">200</text>
<line x1="42.20" y1="255.50" x2="88.80" y2="255.50" stroke="#333" stroke-width="0.8"/>
<line x1="55.40" y1="255.50" x2="55.40" y2="258.50" stroke="#333" stroke-width="0.8"/>
<line x1="75.10" y1="255.50" x2="75.10" y2="258.50" stroke="#333" stroke-width="0.8"/>
<rect x="49.30" y="202.28" width="13.10" height="53.22" fill="#707070" stroke="#333" stroke-width="0.8"/>
<rect x="68.80" y="209.05" width="13.10" height="46.45" fill="#fff" stroke="#333" stroke-width="0.8"/>
<rect x="51.46" y="222.87" width="1.3" height="1.3" fill="#151515"/>
<rect x="53.83" y="222.58" width="1.3" height="1.3" fill="#151515"/>
<rect x="54.85" y="221.91" width="1.3" height="1.3" fill="#151515"/>
<rect x="52.05" y="221.56" width="1.3" height="1.3" fill="#151515"/>
<rect x="56.92" y="221.05" width="1.3" height="1.3" fill="#151515"/>
<rect x="58.89" y="220.23" width="1.3" height="1.3" fill="#151515"/>
<rect x="56.75" y="219.80" width="1.3" height="1.3" fill="#151515"/>
<rect x="51.79" y="219.10" width="1.3" height="1.3" fill="#151515"/>
<rect x="56.66" y="218.55" width="1.3" height="1.3" fill="#151515"/>
<rect x="53.62" y="218.03" width="1.3" height="1.3" fill="#151515"/>
<rect x="51.56" y="217.77" width="1.3" height="1.3" fill="#151515"/>
<rect x="58.36" y="217.25" width="1.3" height="1.3" fill="#151515"/>
<rect x="57.97" y="216.35" width="1.3" height="1.3" fill="#151515"/>
<rect x="57.03" y="215.86" width="1.3" height="1.3" fill="#151515"/>
<rect x="55.50" y="215.31" width="1.3" height="1.3" fill="#151515"/>
<rect x="56.34" y="215.01" width="1.3" height="1.3" fill="#151515"/>
<rect x="56.94" y="214.29" width="1.3" height="1.3" fill="#151515"/>
<rect x="55.66" y="213.97" width="1.3" height="1.3" fill="#151515"/>
<rect x="55.34" y="213.32" width="1.3" height="1.3" fill="#151515"/>
<rect x="56.57" y="212.80" width="1.3" height="1.3" fill="#151515"/>
<rect x="58.62" y="212.14" width="1.3" height="1.3" fill="#151515"/>
<rect x="54.08" y="211.70" width="1.3" height="1.3" fill="#151515"/>
<rect x="54.00" y="211.02" width="1.3" height="1.3" fill="#151515"/>
<rect x="56.52" y="210.57" width="1.3" height="1.3" fill="#151515"/>
<rect x="58.42" y="209.88" width="1.3" height="1.3" fill="#151515"/>
<rect x="58.46" y="209.53" width="1.3" height="1.3" fill="#151515"/>
<rect x="53.54" y="209.07" width="1.3" height="1.3" fill="#151515"/>
<rect x="58.81" y="208.51" width="1.3" height="1.3" fill="#151515"/>
<rect x="55.42" y="207.79" width="1.3" height="1.3" fill="#151515"/>
<rect x="54.15" y="207.19" width="1.3" height="1.3" fill="#151515"/>
<rect x="58.53" y="207.00" width="1.3" height="1.3" fill="#151515"/>
<rect x="53.77" y="206.38" width="1.3" height="1.3" fill="#151515"/>
<rect x="57.91" y="205.57" width="1.3" height="1.3" fill="#151515"/>
<rect x="54.08" y="205.31" width="1.3" height="1.3" fill="#151515"/>
<rect x="51.42" y="204.85" width="1.3" height="1.3" fill="#151515"/>
<rect x="53.76" y="204.18" width="1.3" height="1.3" fill="#151515"/>
<rect x="51.38" y="203.76" width="1.3" height="1.3" fill="#151515"/>
<rect x="51.80" y="202.94" width="1.3" height="1.3" fill="#151515"/>
<rect x="53.83" y="202.66" width="1.3" height="1.3" fill="#151515"/>
<rect x="51.81" y="201.95" width="1.3" height="1.3" fill="#151515"/>
<rect x="53.13" y="201.61" width="1.3" height="1.3" fill="#151515"/>
<rect x="55.68" y="201.08" width="1.3" height="1.3" fill="#151515"/>
<rect x="51.69" y="200.28" width="1.3" height="1.3" fill="#151515"/>
<rect x="55.09" y="199.80" width="1.3" height="1.3" fill="#151515"/>
<rect x="52.43" y="199.14" width="1.3" height="1.3" fill="#151515"/>
<rect x="58.60" y="198.60" width="1.3" height="1.3" fill="#151515"/>
<rect x="53.06" y="198.18" width="1.3" height="1.3" fill="#151515"/>
<rect x="51.38" y="197.55" width="1.3" height="1.3" fill="#151515"/>
<rect x="53.57" y="196.96" width="1.3" height="1.3" fill="#151515"/>
<rect x="56.77" y="196.42" width="1.3" height="1.3" fill="#151515"/>
<rect x="54.86" y="196.16" width="1.3" height="1.3" fill="#151515"/>
<rect x="56.93" y="195.42" width="1.3" height="1.3" fill="#151515"/>
<rect x="53.75" y="194.83" width="1.3" height="1.3" fill="#151515"/>
<rect x="53.14" y="194.49" width="1.3" height="1.3" fill="#151515"/>
<rect x="53.56" y="194.01" width="1.3" height="1.3" fill="#151515"/>
<rect x="52.54" y="193.09" width="1.3" height="1.3" fill="#151515"/>
<rect x="56.24" y="192.87" width="1.3" height="1.3" fill="#151515"/>
<rect x="53.70" y="192.40" width="1.3" height="1.3" fill="#151515"/>
<rect x="54.86" y="191.54" width="1.3" height="1.3" fill="#151515"/>
<rect x="58.65" y="191.17" width="1.3" height="1.3" fill="#151515"/>
<rect x="56.64" y="190.74" width="1.3" height="1.3" fill="#151515"/>
<rect x="51.64" y="190.22" width="1.3" height="1.3" fill="#151515"/>
<rect x="53.85" y="189.68" width="1.3" height="1.3" fill="#151515"/>
<rect x="51.97" y="189.14" width="1.3" height="1.3" fill="#151515"/>
<rect x="55.19" y="188.44" width="1.3" height="1.3" fill="#151515"/>
<rect x="53.82" y="187.94" width="1.3" height="1.3" fill="#151515"/>
<rect x="57.78" y="187.37" width="1.3" height="1.3" fill="#151515"/>
<rect x="57.26" y="186.76" width="1.3" height="1.3" fill="#151515"/>
<rect x="52.15" y="186.23" width="1.3" height="1.3" fill="#151515"/>
<rect x="51.97" y="185.73" width="1.3" height="1.3" fill="#151515"/>
<rect x="58.19" y="185.00" width="1.3" height="1.3" fill="#151515"/>
<rect x="54.92" y="184.56" width="1.3" height="1.3" fill="#151515"/>
<rect x="56.27" y="183.94" width="1.3" height="1.3" fill="#151515"/>
<rect x="52.32" y="183.64" width="1.3" height="1.3" fill="#151515"/>
<rect x="56.71" y="183.21" width="1.3" height="1.3" fill="#151515"/>
<rect x="52.95" y="170.96" width="1.3" height="1.3" fill="#151515"/>
<rect x="52.95" y="175.47" width="1.3" height="1.3" fill="#151515"/>
<rect x="55.15" y="175.47" width="1.3" height="1.3" fill="#151515"/>
<rect x="52.95" y="178.18" width="1.3" height="1.3" fill="#151515"/>
<rect x="57.35" y="178.18" width="1.3" height="1.3" fill="#151515"/>
<rect x="52.95" y="179.98" width="1.3" height="1.3" fill="#151515"/>
<rect x="55.15" y="179.98" width="1.3" height="1.3" fill="#151515"/>
<rect x="57.35" y="179.98" width="1.3" height="1.3" fill="#151515"/>
<rect x="77.31" y="232.18" width="1.3" height="1.3" fill="#151515"/>
<rect x="76.30" y="231.19" width="1.3" height="1.3" fill="#151515"/>
<rect x="71.84" y="230.99" width="1.3" height="1.3" fill="#151515"/>
<rect x="77.43" y="230.14" width="1.3" height="1.3" fill="#151515"/>
<rect x="76.20" y="229.24" width="1.3" height="1.3" fill="#151515"/>
<rect x="76.32" y="228.82" width="1.3" height="1.3" fill="#151515"/>
<rect x="73.39" y="228.39" width="1.3" height="1.3" fill="#151515"/>
<rect x="71.56" y="227.56" width="1.3" height="1.3" fill="#151515"/>
<rect x="77.20" y="227.16" width="1.3" height="1.3" fill="#151515"/>
<rect x="74.52" y="226.15" width="1.3" height="1.3" fill="#151515"/>
<rect x="76.41" y="225.54" width="1.3" height="1.3" fill="#151515"/>
<rect x="76.42" y="224.80" width="1.3" height="1.3" fill="#151515"/>
<rect x="73.40" y="224.34" width="1.3" height="1.3" fill="#151515"/>
<rect x="72.94" y="223.94" width="1.3" height="1.3" fill="#151515"/>
<rect x="76.48" y="223.22" width="1.3" height="1.3" fill="#151515"/>
<rect x="76.16" y="222.28" width="1.3" height="1.3" fill="#151515"/>
<rect x="74.59" y="221.88" width="1.3" height="1.3" fill="#151515"/>
<rect x="73.44" y="221.23" width="1.3" height="1.3" fill="#151515"/>
<rect x="71.78" y="220.45" width="1.3" height="1.3" fill="#151515"/>
<rect x="73.19" y="219.65" width="1.3" height="1.3" fill="#151515"/>
<rect x="78.24" y="219.35" width="1.3" height="1.3" fill="#151515"/>
<rect x="73.11" y="218.59" width="1.3" height="1.3" fill="#151515"/>
<rect x="74.29" y="217.74" width="1.3" height="1.3" fill="#151515"/>
<rect x="75.66" y="217.57" width="1.3" height="1.3" fill="#151515"/>
<rect x="76.63" y="216.56" width="1.3" height="1.3" fill="#151515"/>
<rect x="76.47" y="216.32" width="1.3" height="1.3" fill="#151515"/>
<rect x="71.48" y="215.24" width="1.3" height="1.3" fill="#151515"/>
<rect x="76.41" y="214.66" width="1.3" height="1.3" fill="#151515"/>
<rect x="74.56" y="214.24" width="1.3" height="1.3" fill="#151515"/>
<rect x="73.96" y="213.26" width="1.3" height="1.3" fill="#151515"/>
<rect x="77.19" y="213.08" width="1.3" height="1.3" fill="#151515"/>
<rect x="75.90" y="212.39" width="1.3" height="1.3" fill="#151515"/>
<rect x="71.93" y="211.72" width="1.3" height="1.3" fill="#151515"/>
<rect x="75.10" y="211.04" width="1.3" height="1.3" fill="#151515"/>
<rect x="76.00" y="210.12" width="1.3" height="1.3" fill="#151515"/>
<rect x="76.32" y="209.49" width="1.3" height="1.3" fill="#151515"/>
<rect x="77.27" y="208.99" width="1.3" height="1.3" fill="#151515"/>
<rect x="77.48" y="208.16" width="1.3" height="1.3" fill="#151515"/>
<rect x="73.47" y="207.70" width="1.3" height="1.3" fill="#151515"/>
<rect x="74.58" y="207.16" width="1.3" height="1.3" fill="#151515"/>
<rect x="71.70" y="206.46" width="1.3" height="1.3" fill="#151515"/>
<rect x="73.97" y="205.60" width="1.3" height="1.3" fill="#151515"/>
<rect x="72.42" y="205.15" width="1.3" height="1.3" fill="#151515"/>
<rect x="75.97" y="204.51" width="1.3" height="1.3" fill="#151515"/>
<rect x="78.00" y="203.72" width="1.3" height="1.3" fill="#151515"/>
<rect x="71.46" y="203.17" width="1.3" height="1.3" fill="#151515"/>
<rect x="71.91" y="202.42" width="1.3" height="1.3" fill="#151515"/>
<rect x="75.91" y="202.14" width="1.3" height="1.3" fill="#151515"/>
<rect x="72.79" y="201.32" width="1.3" height="1.3" fill="#151515"/>
<rect x="74.96" y="200.83" width="1.3" height="1.3" fill="#151515"/>
<rect x="75.68" y="200.22" width="1.3" height="1.3" fill="#151515"/>
<rect x="77.97" y="199.30" width="1.3" height="1.3" fill="#151515"/>
<rect x="77.42" y="199.01" width="1.3" height="1.3" fill="#151515"/>
<rect x="72.74" y="198.03" width="1.3" height="1.3" fill="#151515"/>
<rect x="70.87" y="197.45" width="1.3" height="1.3" fill="#151515"/>
<rect x="74.76" y="197.00" width="1.3" height="1.3" fill="#151515"/>
<rect x="72.45" y="196.41" width="1.3" height="1.3" fill="#151515"/>
<rect x="73.41" y="195.50" width="1.3" height="1.3" fill="#151515"/>
<rect x="73.29" y="195.01" width="1.3" height="1.3" fill="#151515"/>
<rect x="72.73" y="194.59" width="1.3" height="1.3" fill="#151515"/>
<rect x="74.55" y="170.96" width="1.3" height="1.3" fill="#151515"/>
<rect x="73.05" y="172.32" width="1.3" height="1.3" fill="#151515"/>
<rect x="74.55" y="182.69" width="1.3" height="1.3" fill="#151515"/>
<rect x="74.55" y="190.36" width="1.3" height="1.3" fill="#151515"/>
<rect x="76.05" y="192.61" width="1.3" height="1.3" fill="#151515"/>
<rect x="73.55" y="191.71" width="1.3" height="1.3" fill="#151515"/>
<line x1="55.80" y1="191.46" x2="55.80" y2="212.66" stroke="#222" stroke-width="0.8"/>
<line x1="52.50" y1="191.46" x2="59.00" y2="191.46" stroke="#222" stroke-width="0.8"/>
<line x1="75.20" y1="200.48" x2="75.20" y2="217.16" stroke="#222" stroke-width="0.8"/>
<line x1="72.00" y1="200.48" x2="78.40" y2="200.48" stroke="#222" stroke-width="0.8"/>
<polyline points="55.80,162.50 55.80,157.90 75.90,157.90 75.90,165.00" stroke="#333" stroke-width="0.8" fill="none"/>
<polygon points="63.30,160.15 63.90,161.37 65.26,161.57 64.28,162.52 64.51,163.87 63.30,163.24 62.09,163.87 62.32,162.52 61.34,161.57 62.69,161.37" fill="#222"/>
<polygon points="67.30,160.15 67.91,161.37 69.26,161.57 68.28,162.52 68.51,163.87 67.30,163.24 66.09,163.87 66.32,162.52 65.34,161.57 66.70,161.37" fill="#222"/>
<text x="52.40" y="152.90" font-size="6.1" fill="#333"><tspan font-style="italic">P</tspan>=0.0023</text>
<text x="0.00" y="0.00" font-size="9.9" transform="translate(19.60,247.80) rotate(-90)">Villus length (µm)</text>
<text x="0.00" y="0.00" font-size="8.76" text-anchor="end" transform="translate(58.72,265.68) rotate(-45)">Vehicle</text>
<text x="0.00" y="0.00" font-size="8.65" text-anchor="end" transform="translate(77.43,265.56) rotate(-45)">GW-6471</text>
<text x="104.60" y="161.70" font-size="12.5" font-weight="bold" fill="#111">h</text>
<clipPath id="h1clip"><rect x="116.6" y="164.4" width="102.4" height="102.4"/></clipPath>
<g clip-path="url(#h1clip)">
<rect x="116.60" y="164.40" width="102.40" height="102.40" fill="#fcfafb" stroke="none" stroke-width="0"/>
<polygon points="116,206 150,193 150,199 135,212 125,222 116,228" fill="#efe2ec"/>
<clipPath id="t1c"><polygon points="150,196 175,184.5 200,176 220,170 220,197.4 210.6,200.4 203.5,207.5 190.4,210.6 183.3,212.6 180.2,216.6 174.3,224.8 169.9,228 161.3,232.4 151.6,238.8 143,245.3 140.3,249.6 139.2,256.1 136,258.8 133.3,257.2 132.2,250.7 133.3,243.1 134.3,232.4 131.1,230.2 126.8,231.3 122.5,235.6 118.2,240 116,241 116,224 125,216 135,206"/></clipPath>
<g clip-path="url(#t1c)"><rect x="116" y="164" width="104" height="104" fill="#a88dc9"/><rect x="116" y="164" width="104" height="104" filter="url(#dsp)"/><rect x="116" y="164" width="104" height="104" filter="url(#wsp)"/></g>
<path d="M146,215 l4,-3 l2,5 l-3,4z M163,196 l6,-2 l3,8 l-3,1z M190,186 l5,-1 l4,9 l-3,2z M178,205 l3,-4 l4,3z M124,226 l8,-8 l2,3 l-8,7z M155,205 l2,-6 l2,1 l-2,7z M205,180 l3,-2 l2,6 l-2,1z M170,215 l5,-3 l1,2 l-5,3z" fill="#eadff0"/>
<path d="M136,252 q1,-8 4,-12 l2,1 q-3,5 -4,11z M150,236 q8,-6 18,-9 l0,1.5 q-10,3 -18,9z" fill="#c7a4cc" opacity="0.8"/>
<polygon points="116,205.5 170,184.3 220,169.2 220,171.5 170,186.8 116,208.5" fill="#eadbe6"/>
<polygon points="116,202.5 170,179.9 220,165.3 220,169.3 170,184.4 116,206.6" fill="#b9b7af"/>
<path d="M135.2,258.6 C134.8,250 136.5,243.5 140.5,239.5 C150,229.5 166,220 176.2,208.6" fill="none" stroke="#111" stroke-width="1.3"/>
<circle cx="185.50" cy="218.50" r="0.8" fill="#8c7a9c" stroke="none" stroke-width="0.6"/>
<circle cx="196.00" cy="246.50" r="0.7" fill="#8c7a9c" stroke="none" stroke-width="0.6"/>
</g>
<rect x="116.60" y="164.40" width="102.40" height="102.40" fill="none" stroke="#555" stroke-width="1.0"/>
<text x="122.80" y="176.80" font-size="12.2" fill="#222">Vehicle</text>
<line x1="160.30" y1="257.60" x2="199.80" y2="257.60" stroke="#222" stroke-width="0.9"/>
<text x="180.10" y="254.60" font-size="8.5" text-anchor="middle" fill="#222">100 µm</text>
<clipPath id="h2clip"><rect x="221.8" y="164.2" width="101.8" height="102.9"/></clipPath>
<g clip-path="url(#h2clip)">
<rect x="221.80" y="164.20" width="101.80" height="102.90" fill="#fcfafb" stroke="none" stroke-width="0"/>
<clipPath id="t2c"><polygon points="221,204.5 250,200 270,197.4 300,193.5 324,190.8 324,221.7 320.4,223.9 316,228.2 309.5,230.4 302.9,229.3 299.6,226 297.4,221.7 290.8,218.4 286.4,221.7 281,228.2 274,234.8 263.7,240.3 254.9,243 248.3,239.2 247.2,231.5 250.5,227 244,225 240.6,228.2 241.2,234.8 237.4,239.8 230.8,240.3 226.4,234.8 226.4,226 222,221.7 221,221"/></clipPath>
<g clip-path="url(#t2c)"><rect x="221" y="164" width="104" height="104" fill="#a488c8"/><rect x="221" y="164" width="104" height="104" filter="url(#dsp)"/><rect x="221" y="164" width="104" height="104" filter="url(#wsp)"/></g>
<polygon points="280,197 324,190.8 324,221.7 320.4,223.9 316,228.2 309.5,230.4 302.9,229.3 299.6,226 297.4,221.7 290.8,218.4 286.4,221.7 281,228.2 276,232 280,215" fill="#d2c2de" opacity="0.55"/>
<path d="M308.4,225 q4,-4 8.5,-1 q-1,5 -4,5.5 q-4,0 -4.5,-4.5z M249,236 q-1,-4 3,-5 q2,3 -3,5z" fill="#fcfafb"/>
<polygon points="221,204.3 270,197.2 324,190.6 324,192.6 270,199.2 221,206.5" fill="#e8dbe6"/>
<polygon points="221,200.7 270,193.7 324,187 324,190.8 270,197.5 221,204.6" fill="#d2d0c8"/>
<path d="M249.5,239.8 C262,236 276,230 280.5,223 C282.5,220 283,218 282.9,215.7" fill="none" stroke="#111" stroke-width="1.3"/>
<circle cx="226.00" cy="262.00" r="0.7" fill="#9a86b6" stroke="none" stroke-width="0.6"/>
<circle cx="229.00" cy="258.00" r="0.7" fill="#9a86b6" stroke="none" stroke-width="0.6"/>
<circle cx="233.00" cy="250.00" r="0.7" fill="#9a86b6" stroke="none" stroke-width="0.6"/>
<circle cx="222.50" cy="265.00" r="0.7" fill="#9a86b6" stroke="none" stroke-width="0.6"/>
<circle cx="268.00" cy="223.00" r="0.7" fill="#9a86b6" stroke="none" stroke-width="0.6"/>
<circle cx="282.00" cy="232.00" r="0.7" fill="#9a86b6" stroke="none" stroke-width="0.6"/>
</g>
<rect x="221.80" y="164.20" width="101.80" height="102.90" fill="none" stroke="#555" stroke-width="1.0"/>
<text x="229.30" y="177.60" font-size="12.2" fill="#222">GW-6471</text>
<line x1="261.60" y1="256.60" x2="300.60" y2="256.60" stroke="#222" stroke-width="0.9"/>
<text x="281.10" y="253.70" font-size="8.5" text-anchor="middle" fill="#222">100 µm</text>
<text x="341.60" y="161.20" font-size="12.5" font-weight="bold" fill="#111">i</text>
<line x1="371.00" y1="164.10" x2="371.00" y2="249.90" stroke="#333" stroke-width="0.8"/>
<line x1="367.40" y1="249.90" x2="371.00" y2="249.90" stroke="#333" stroke-width="0.8"/>
<text x="366.80" y="252.89" font-size="8.3" text-anchor="end">0</text>
<line x1="367.40" y1="228.45" x2="371.00" y2="228.45" stroke="#333" stroke-width="0.8"/>
<text x="366.80" y="231.44" font-size="8.3" text-anchor="end">50</text>
<line x1="367.40" y1="207.00" x2="371.00" y2="207.00" stroke="#333" stroke-width="0.8"/>
<text x="366.80" y="209.99" font-size="8.3" text-anchor="end">100</text>
<line x1="367.40" y1="185.55" x2="371.00" y2="185.55" stroke="#333" stroke-width="0.8"/>
<text x="366.80" y="188.54" font-size="8.3" text-anchor="end">150</text>
<line x1="367.40" y1="164.10" x2="371.00" y2="164.10" stroke="#333" stroke-width="0.8"/>
<text x="366.80" y="167.09" font-size="8.3" text-anchor="end">200</text>
<line x1="371.00" y1="249.90" x2="414.50" y2="249.90" stroke="#333" stroke-width="0.8"/>
<line x1="383.60" y1="249.90" x2="383.60" y2="252.90" stroke="#333" stroke-width="0.8"/>
<line x1="402.40" y1="249.90" x2="402.40" y2="252.90" stroke="#333" stroke-width="0.8"/>
<rect x="377.70" y="200.14" width="12.30" height="49.76" fill="#707070" stroke="#333" stroke-width="0.8"/>
<rect x="396.30" y="208.72" width="12.60" height="41.18" fill="#fff" stroke="#333" stroke-width="0.8"/>
<rect x="381.27" y="220.36" width="1.3" height="1.3" fill="#151515"/>
<rect x="384.63" y="218.63" width="1.3" height="1.3" fill="#151515"/>
<rect x="384.72" y="215.47" width="1.3" height="1.3" fill="#151515"/>
<rect x="382.81" y="214.13" width="1.3" height="1.3" fill="#151515"/>
<rect x="382.80" y="211.91" width="1.3" height="1.3" fill="#151515"/>
<rect x="381.45" y="208.85" width="1.3" height="1.3" fill="#151515"/>
<rect x="381.41" y="206.60" width="1.3" height="1.3" fill="#151515"/>
<rect x="380.99" y="204.72" width="1.3" height="1.3" fill="#151515"/>
<rect x="383.09" y="201.68" width="1.3" height="1.3" fill="#151515"/>
<rect x="384.80" y="200.03" width="1.3" height="1.3" fill="#151515"/>
<rect x="381.03" y="197.32" width="1.3" height="1.3" fill="#151515"/>
<rect x="381.25" y="195.54" width="1.3" height="1.3" fill="#151515"/>
<rect x="381.40" y="193.37" width="1.3" height="1.3" fill="#151515"/>
<rect x="383.29" y="191.02" width="1.3" height="1.3" fill="#151515"/>
<rect x="383.12" y="189.15" width="1.3" height="1.3" fill="#151515"/>
<rect x="382.99" y="186.05" width="1.3" height="1.3" fill="#151515"/>
<rect x="385.17" y="184.06" width="1.3" height="1.3" fill="#151515"/>
<rect x="383.17" y="183.11" width="1.3" height="1.3" fill="#151515"/>
<rect x="384.91" y="179.49" width="1.3" height="1.3" fill="#151515"/>
<rect x="381.04" y="177.74" width="1.3" height="1.3" fill="#151515"/>
<rect x="382.87" y="175.86" width="1.3" height="1.3" fill="#151515"/>
<rect x="381.72" y="173.52" width="1.3" height="1.3" fill="#151515"/>
<rect x="385.01" y="172.04" width="1.3" height="1.3" fill="#151515"/>
<rect x="383.02" y="168.40" width="1.3" height="1.3" fill="#151515"/>
<rect x="403.41" y="219.90" width="1.3" height="1.3" fill="#151515"/>
<rect x="399.21" y="219.20" width="1.3" height="1.3" fill="#151515"/>
<rect x="398.50" y="218.55" width="1.3" height="1.3" fill="#151515"/>
<rect x="405.24" y="217.79" width="1.3" height="1.3" fill="#151515"/>
<rect x="402.02" y="217.08" width="1.3" height="1.3" fill="#151515"/>
<rect x="401.47" y="216.40" width="1.3" height="1.3" fill="#151515"/>
<rect x="400.44" y="215.98" width="1.3" height="1.3" fill="#151515"/>
<rect x="400.56" y="215.32" width="1.3" height="1.3" fill="#151515"/>
<rect x="400.27" y="214.86" width="1.3" height="1.3" fill="#151515"/>
<rect x="403.01" y="213.81" width="1.3" height="1.3" fill="#151515"/>
<rect x="404.67" y="213.41" width="1.3" height="1.3" fill="#151515"/>
<rect x="403.64" y="212.93" width="1.3" height="1.3" fill="#151515"/>
<rect x="403.74" y="212.21" width="1.3" height="1.3" fill="#151515"/>
<rect x="403.72" y="211.36" width="1.3" height="1.3" fill="#151515"/>
<rect x="400.07" y="210.99" width="1.3" height="1.3" fill="#151515"/>
<rect x="398.84" y="210.09" width="1.3" height="1.3" fill="#151515"/>
<rect x="401.68" y="209.48" width="1.3" height="1.3" fill="#151515"/>
<rect x="404.75" y="209.06" width="1.3" height="1.3" fill="#151515"/>
<rect x="400.50" y="208.20" width="1.3" height="1.3" fill="#151515"/>
<rect x="404.97" y="207.59" width="1.3" height="1.3" fill="#151515"/>
<rect x="403.67" y="206.83" width="1.3" height="1.3" fill="#151515"/>
<rect x="404.76" y="206.16" width="1.3" height="1.3" fill="#151515"/>
<rect x="398.84" y="205.72" width="1.3" height="1.3" fill="#151515"/>
<rect x="400.00" y="205.07" width="1.3" height="1.3" fill="#151515"/>
<rect x="400.04" y="204.53" width="1.3" height="1.3" fill="#151515"/>
<rect x="398.45" y="203.68" width="1.3" height="1.3" fill="#151515"/>
<rect x="399.21" y="203.27" width="1.3" height="1.3" fill="#151515"/>
<rect x="399.15" y="202.39" width="1.3" height="1.3" fill="#151515"/>
<rect x="400.46" y="201.74" width="1.3" height="1.3" fill="#151515"/>
<rect x="404.74" y="200.92" width="1.3" height="1.3" fill="#151515"/>
<rect x="403.74" y="200.71" width="1.3" height="1.3" fill="#151515"/>
<rect x="403.20" y="199.89" width="1.3" height="1.3" fill="#151515"/>
<rect x="402.04" y="199.41" width="1.3" height="1.3" fill="#151515"/>
<rect x="400.36" y="198.60" width="1.3" height="1.3" fill="#151515"/>
<rect x="404.74" y="198.09" width="1.3" height="1.3" fill="#151515"/>
<rect x="399.06" y="197.20" width="1.3" height="1.3" fill="#151515"/>
<rect x="399.01" y="196.76" width="1.3" height="1.3" fill="#151515"/>
<rect x="402.18" y="196.13" width="1.3" height="1.3" fill="#151515"/>
<rect x="400.38" y="195.44" width="1.3" height="1.3" fill="#151515"/>
<rect x="401.96" y="194.58" width="1.3" height="1.3" fill="#151515"/>
<rect x="401.05" y="230.51" width="1.3" height="1.3" fill="#151515"/>
<rect x="402.65" y="226.80" width="1.3" height="1.3" fill="#151515"/>
<rect x="401.05" y="223.75" width="1.3" height="1.3" fill="#151515"/>
<rect x="402.65" y="221.92" width="1.3" height="1.3" fill="#151515"/>
<rect x="401.05" y="218.30" width="1.3" height="1.3" fill="#151515"/>
<rect x="402.65" y="213.46" width="1.3" height="1.3" fill="#151515"/>
<rect x="401.05" y="211.57" width="1.3" height="1.3" fill="#151515"/>
<rect x="402.65" y="207.78" width="1.3" height="1.3" fill="#151515"/>
<rect x="402.65" y="205.20" width="1.3" height="1.3" fill="#151515"/>
<rect x="402.65" y="200.67" width="1.3" height="1.3" fill="#151515"/>
<rect x="401.05" y="199.71" width="1.3" height="1.3" fill="#151515"/>
<rect x="401.05" y="196.11" width="1.3" height="1.3" fill="#151515"/>
<rect x="402.65" y="192.61" width="1.3" height="1.3" fill="#151515"/>
<rect x="401.05" y="188.66" width="1.3" height="1.3" fill="#151515"/>
<rect x="402.65" y="185.81" width="1.3" height="1.3" fill="#151515"/>
<rect x="401.05" y="181.77" width="1.3" height="1.3" fill="#151515"/>
<rect x="401.05" y="178.46" width="1.3" height="1.3" fill="#151515"/>
<rect x="401.05" y="175.05" width="1.3" height="1.3" fill="#151515"/>
<line x1="383.80" y1="185.55" x2="383.80" y2="213.44" stroke="#222" stroke-width="0.8"/>
<line x1="380.50" y1="185.55" x2="387.00" y2="185.55" stroke="#222" stroke-width="0.8"/>
<line x1="402.50" y1="197.56" x2="402.50" y2="219.01" stroke="#222" stroke-width="0.8"/>
<line x1="399.00" y1="197.56" x2="406.00" y2="197.56" stroke="#222" stroke-width="0.8"/>
<polyline points="383.10,164.30 383.10,159.70 402.70,159.70 402.70,168.00" stroke="#333" stroke-width="0.8" fill="none"/>
<polygon points="391.30,161.65 391.90,162.87 393.26,163.07 392.28,164.02 392.51,165.37 391.30,164.74 390.09,165.37 390.32,164.02 389.34,163.07 390.69,162.87" fill="#222"/>
<polygon points="395.30,161.65 395.91,162.87 397.26,163.07 396.28,164.02 396.51,165.37 395.30,164.74 394.09,165.37 394.32,164.02 393.34,163.07 394.70,162.87" fill="#222"/>
<text x="378.90" y="155.90" font-size="6.1" fill="#333"><tspan font-style="italic">P</tspan>=0.0010</text>
<text x="0.00" y="0.00" font-size="9.5" transform="translate(349.30,242.70) rotate(-90)">Villus length (µm)</text>
<text x="0.00" y="0.00" font-size="8.42" text-anchor="end" transform="translate(386.40,260.14) rotate(-45)">Vehicle</text>
<text x="0.00" y="0.00" font-size="8.19" text-anchor="end" transform="translate(404.77,261.06) rotate(-45)">NXT-629</text>
<text x="427.00" y="161.50" font-size="12.5" font-weight="bold" fill="#111">j</text>
<clipPath id="j1clip"><rect x="433.3" y="162.4" width="70.5" height="108"/></clipPath>
<g clip-path="url(#j1clip)">
<rect x="433.30" y="162.40" width="70.50" height="108.00" fill="#fcf7f9" stroke="none" stroke-width="0"/>
<clipPath id="j1t"><polygon points="455.5,162 476,162 477,170 475,177 470,181 476,184 478.5,192 477,200 473,205 467,206 464,203 463,196 462,190 461,198 463,206 466,212 465,218 461,224 460.5,231 466,236 474,244 479,252 478.5,262 476,266 472,265 470,256 466,247 461,243 459,250 458,271 445,271 447,250 449.3,230 451.6,198.6 453.5,185"/><polygon points="467.4,218.5 472,216.5 477.5,220.5 477.9,226.5 473,227.5 468.5,224"/></clipPath>
<g clip-path="url(#j1t)"><rect x="433" y="162" width="72" height="110" fill="#e3daee"/><rect x="433" y="162" width="72" height="110" filter="url(#jsp)"/></g>
<polygon points="486,253 489,252 490,257 487,258" fill="#c8bce0"/>
<polyline points="455.3,162 451.8,198.6 449.4,219.6 445.3,270.5" fill="none" stroke="#c2baba" stroke-width="1.6" class="aa"/>
<path d="M464.5,183.4 L471.4,184.2 L471.5,201.5 M461,240.6 L467.4,242.1 L474.4,250.3 L474.4,263.7" fill="none" stroke="#111" stroke-width="1.2"/>
</g>
<rect x="433.30" y="162.40" width="70.50" height="108.00" fill="none" stroke="#444" stroke-width="0.9"/>
<text x="502.00" y="172.30" font-size="7.7" text-anchor="end" fill="#222">Vehicle</text>
<line x1="480.80" y1="269.00" x2="501.80" y2="269.00" stroke="#777" stroke-width="1.1"/>
<text x="491.30" y="267.20" font-size="6.3" text-anchor="middle" fill="#222">100 µm</text>
<clipPath id="j2clip"><rect x="508.6" y="162.4" width="71.2" height="108"/></clipPath>
<g clip-path="url(#j2clip)">
<rect x="508.60" y="162.40" width="71.20" height="108.00" fill="#fcf7f9" stroke="none" stroke-width="0"/>
<clipPath id="j2t"><polygon points="512,162 534,162 535,170 534.5,176 536.5,178 540,180 540.5,187 538.5,193 540,197 541,203 545.5,209.5 549.4,212 549.5,218 546.5,220.5 543.6,224 549,229 554,234.5 559.9,245 563.4,259 562.8,271 549,271"/></clipPath>
<g clip-path="url(#j2t)"><rect x="508" y="162" width="72" height="110" fill="#e3daee"/><rect x="508" y="162" width="72" height="110" filter="url(#jsp)"/></g>
<polyline points="510.6,162 549.3,271" fill="none" stroke="#d4cbc8" stroke-width="2.6" class="aa"/>
<path d="M538.9,178.1 L536,192.1 M546.5,210.2 L545.3,217.8 L538.3,217.8" fill="none" stroke="#111" stroke-width="1.1"/>
<circle cx="548.50" cy="196.50" r="0.5" fill="#8a7cc6" stroke="none" stroke-width="0.6"/>
<circle cx="550.00" cy="200.00" r="0.5" fill="#8a7cc6" stroke="none" stroke-width="0.6"/>
<circle cx="566.00" cy="249.00" r="0.5" fill="#8a7cc6" stroke="none" stroke-width="0.6"/>
<circle cx="572.00" cy="252.00" r="0.5" fill="#8a7cc6" stroke="none" stroke-width="0.6"/>
<circle cx="570.00" cy="262.00" r="0.5" fill="#8a7cc6" stroke="none" stroke-width="0.6"/>
</g>
<rect x="508.60" y="162.40" width="71.20" height="108.00" fill="none" stroke="#444" stroke-width="0.9"/>
<text x="574.90" y="172.30" font-size="7.9" text-anchor="end" fill="#222">NXT-629</text>
<line x1="552.90" y1="227.50" x2="573.90" y2="227.50" stroke="#333" stroke-width="0.9"/>
<text x="563.40" y="225.20" font-size="6.3" text-anchor="middle" fill="#222">100 µm</text>
<text x="590.60" y="161.60" font-size="12.5" font-weight="bold" fill="#111">k</text>
<line x1="628.50" y1="165.45" x2="628.50" y2="252.00" stroke="#333" stroke-width="0.8"/>
<line x1="624.90" y1="252.00" x2="628.50" y2="252.00" stroke="#333" stroke-width="0.8"/>
<text x="624.30" y="254.88" font-size="8.0" text-anchor="end">0</text>
<line x1="624.90" y1="223.15" x2="628.50" y2="223.15" stroke="#333" stroke-width="0.8"/>
<text x="624.30" y="226.03" font-size="8.0" text-anchor="end">50</text>
<line x1="624.90" y1="194.30" x2="628.50" y2="194.30" stroke="#333" stroke-width="0.8"/>
<text x="624.30" y="197.18" font-size="8.0" text-anchor="end">100</text>
<line x1="624.90" y1="165.45" x2="628.50" y2="165.45" stroke="#333" stroke-width="0.8"/>
<text x="624.30" y="168.33" font-size="8.0" text-anchor="end">150</text>
<line x1="628.50" y1="252.00" x2="665.60" y2="252.00" stroke="#333" stroke-width="0.8"/>
<line x1="639.30" y1="252.00" x2="639.30" y2="255.00" stroke="#333" stroke-width="0.8"/>
<line x1="655.20" y1="252.00" x2="655.20" y2="255.00" stroke="#333" stroke-width="0.8"/>
<rect x="634.20" y="194.30" width="10.70" height="57.70" fill="#707070" stroke="#333" stroke-width="0.8"/>
<rect x="649.90" y="207.60" width="10.60" height="44.40" fill="#fff" stroke="#777" stroke-width="0.8"/>
<line x1="639.30" y1="186.50" x2="639.30" y2="194.30" stroke="#222" stroke-width="0.8"/>
<line x1="636.10" y1="186.50" x2="642.50" y2="186.50" stroke="#222" stroke-width="0.8"/>
<line x1="655.10" y1="198.00" x2="655.10" y2="217.80" stroke="#555" stroke-width="0.8"/>
<line x1="652.50" y1="217.80" x2="657.70" y2="217.80" stroke="#555" stroke-width="0.8"/>
<line x1="652.50" y1="198.50" x2="657.70" y2="198.50" stroke="#555" stroke-width="0.8"/>
<circle cx="639.00" cy="181.30" r="1.8" fill="#111" stroke="none" stroke-width="0.6"/>
<circle cx="639.00" cy="189.70" r="1.8" fill="#111" stroke="none" stroke-width="0.6"/>
<circle cx="635.60" cy="194.30" r="1.8" fill="#111" stroke="none" stroke-width="0.6"/>
<circle cx="642.30" cy="197.30" r="1.8" fill="#111" stroke="none" stroke-width="0.6"/>
<circle cx="639.00" cy="202.40" r="1.8" fill="#111" stroke="none" stroke-width="0.6"/>
<circle cx="636.50" cy="198.00" r="1.8" fill="#111" stroke="none" stroke-width="0.6"/>
<circle cx="655.00" cy="195.60" r="1.6" fill="#fff" stroke="#222" stroke-width="0.7"/>
<circle cx="655.00" cy="199.00" r="1.6" fill="#fff" stroke="#222" stroke-width="0.7"/>
<circle cx="651.30" cy="207.80" r="1.6" fill="#fff" stroke="#222" stroke-width="0.7"/>
<circle cx="659.20" cy="207.80" r="1.6" fill="#fff" stroke="#222" stroke-width="0.7"/>
<circle cx="655.00" cy="223.50" r="1.6" fill="#fff" stroke="#222" stroke-width="0.7"/>
<polyline points="638.60,178.80 638.60,173.70 655.50,173.70 655.50,183.00" stroke="#333" stroke-width="0.8" fill="none"/>
<polygon points="646.20,165.91 646.82,167.16 648.20,167.36 647.20,168.33 647.43,169.71 646.20,169.06 644.97,169.71 645.20,168.33 644.20,167.36 645.58,167.16" fill="#222"/>
<text x="633.10" y="161.60" font-size="6.1" fill="#333"><tspan font-style="italic">P</tspan>=0.0405</text>
<text x="0.00" y="0.00" font-size="9.45" transform="translate(607.40,262.20) rotate(-90)">FFA absorption (µM) in 4h</text>
<text x="0.00" y="0.00" font-size="8.2" text-anchor="end" transform="translate(641.71,263.18) rotate(-45)">Control</text>
<text x="0.00" y="0.00" font-size="8.38" text-anchor="end" transform="translate(657.97,262.86) rotate(-45)">NXT-629</text>
<text x="-1.30" y="309.30" font-size="12.5" font-weight="bold" fill="#111">l</text>
<text x="21.20" y="334.10" font-size="9.1" fill="#333">Wy-14643</text>
<line x1="67.20" y1="330.80" x2="82.50" y2="330.80" stroke="#3d6cc0" stroke-width="1.3"/>
<path d="M85,330.8 L80.5,328.2 L80.5,333.4 Z" fill="#3d6cc0"/>
<polyline points="82.00,347.47 82.25,347.08 82.50,346.58 82.75,345.98 83.00,345.33 83.25,344.65 83.50,343.98 83.75,343.36 84.00,342.83 84.25,342.40 84.50,342.11 84.75,341.96 85.00,341.96 85.25,342.11 85.50,342.39 85.75,342.78 86.00,343.26 86.25,343.79 86.50,344.33 86.75,344.86 87.00,345.33 87.25,345.72 87.50,345.99 87.75,346.12 88.00,346.11 88.25,345.95 88.50,345.65 88.75,345.22 89.00,344.68 89.25,344.07 89.50,343.40 89.75,342.73 90.00,342.09 90.25,341.51 90.50,341.03 90.75,340.66 91.00,340.44 91.25,340.36 91.50,340.43 91.75,340.64 92.00,340.98 92.25,341.43 92.50,341.94 92.75,342.50 93.00,343.06 93.25,343.58 93.50,344.04 93.75,344.39 94.00,344.63 94.25,344.72 94.50,344.67 94.75,344.47 95.00,344.13 95.25,343.67 95.50,343.11 95.75,342.49 96.00,341.84 96.25,341.20 96.50,340.60 96.75,340.07 97.00,339.65 97.25,339.36 97.50,339.22 97.75,339.22 98.00,339.37 98.25,339.66 98.50,340.07 98.75,340.57 99.00,341.12 99.25,341.71 99.50,342.28 99.75,342.80 100.00,343.25 100.25,343.58 100.50,343.79 100.75,343.85 101.00,343.76 101.25,343.53 101.50,343.16 101.75,342.69 102.00,342.13 102.25,341.52 102.50,340.89 102.75,340.28 103.00,339.74 103.25,339.28 103.50,338.93 103.75,338.72 104.00,338.66 104.25,338.75 104.50,338.99 104.75,339.36 105.00,339.83 105.25,340.38 105.50,340.98 105.75,341.60 106.00,342.18 106.25,342.70 106.50,343.13 106.75,343.45 107.00,343.62 107.25,343.65 107.50,343.53 107.75,343.27 108.00,342.89 108.25,342.40 108.50,341.85 108.75,341.25 109.00,340.66 109.25,340.10 109.50,339.61 109.75,339.22 110.00,338.96 110.25,338.84 110.50,338.86 110.75,339.04 111.00,339.36 111.25,339.80 111.50,340.33 111.75,340.94 112.00,341.57 112.25,342.20 112.50,342.80 112.75,343.31 113.00,343.72 113.25,344.01 113.50,344.15 113.75,344.15 114.00,344.00 114.25,343.71 114.50,343.31 114.75,342.81 115.00,342.26 115.25,341.69 115.50,341.13 115.75,340.62 116.00,340.19 116.25,339.87 116.50,339.68 116.75,339.64 117.00,339.75 117.25,340.01 117.50,340.40 117.75,340.90 118.00,341.49 118.25,342.13 118.50,342.79 118.75,343.43 119.00,344.02 119.25,344.51 119.50,344.90 119.75,345.15 120.00,345.25 120.25,345.20 120.50,345.01 120.75,344.69 121.00,344.27 121.25,343.76 121.50,343.22 121.75,342.66 122.00,342.13 122.25,341.66 122.50,341.29 122.75,341.03 123.00,340.92 123.25,340.95 123.50,341.13 123.75,341.46 124.00,341.91 124.25,342.46 124.50,343.09 124.75,343.75 125.00,344.42 125.25,345.05 125.50,345.61 125.75,346.07 126.00,346.41 126.25,346.61 126.50,346.66 126.75,346.56 127.00,346.33" stroke="#a0caa0" stroke-width="1.6" fill="none" class="aa"/>
<polyline points="82.00,345.20 82.25,345.74 82.50,346.24 82.75,346.68 83.00,347.01 83.25,347.22 83.50,347.28 83.75,347.20 84.00,346.97 84.25,346.60 84.50,346.11 84.75,345.53 85.00,344.88 85.25,344.20 85.50,343.53 85.75,342.91 86.00,342.36 86.25,341.92 86.50,341.61 86.75,341.44 87.00,341.42 87.25,341.54 87.50,341.81 87.75,342.19 88.00,342.66 88.25,343.19 88.50,343.74 88.75,344.27 89.00,344.76 89.25,345.16 89.50,345.45 89.75,345.62 90.00,345.63 90.25,345.50 90.50,345.22 90.75,344.81 91.00,344.29 91.25,343.69 91.50,343.04 91.75,342.37 92.00,341.73 92.25,341.14 92.50,340.65 92.75,340.27 93.00,340.03 93.25,339.93 93.50,339.99 93.75,340.19 94.00,340.52 94.25,340.95 94.50,341.47 94.75,342.02 95.00,342.59 95.25,343.13 95.50,343.60 95.75,343.98 96.00,344.25 96.25,344.37 96.50,344.34 96.75,344.17 97.00,343.86 97.25,343.43 97.50,342.89 97.75,342.28 98.00,341.64 98.25,341.00 98.50,340.40 98.75,339.87 99.00,339.44 99.25,339.14 99.50,338.98 99.75,338.97 100.00,339.11 100.25,339.38 100.50,339.78 100.75,340.28 101.00,340.84 101.25,341.43 101.50,342.01 101.75,342.56 102.00,343.02 102.25,343.38 102.50,343.62 102.75,343.71 103.00,343.65 103.25,343.45 103.50,343.11 103.75,342.66 104.00,342.12 104.25,341.52 104.50,340.90 104.75,340.30 105.00,339.75 105.25,339.29 105.50,338.93 105.75,338.71 106.00,338.64 106.25,338.72 106.50,338.94 106.75,339.30 107.00,339.77 107.25,340.32 107.50,340.92 107.75,341.54 108.00,342.14 108.25,342.69 108.50,343.14 108.75,343.48 109.00,343.69 109.25,343.75 109.50,343.66 109.75,343.43 110.00,343.07 110.25,342.61 110.50,342.07 110.75,341.48 111.00,340.90 111.25,340.34 111.50,339.85 111.75,339.45 112.00,339.17 112.25,339.04 112.50,339.05 112.75,339.21 113.00,339.52 113.25,339.95 113.50,340.48 113.75,341.08 114.00,341.72 114.25,342.36 114.50,342.97 114.75,343.51 115.00,343.94 115.25,344.26 115.50,344.43 115.75,344.45 116.00,344.33 116.25,344.07 116.50,343.69 116.75,343.21 117.00,342.67 117.25,342.11 117.50,341.55 117.75,341.03 118.00,340.60 118.25,340.27 118.50,340.06 118.75,340.01 119.00,340.10 119.25,340.34 119.50,340.72 119.75,341.21 120.00,341.79 120.25,342.43 120.50,343.10 120.75,343.75 121.00,344.34 121.25,344.86 121.50,345.27 121.75,345.54 122.00,345.67 122.25,345.65 122.50,345.48 122.75,345.18 123.00,344.78 123.25,344.29 123.50,343.74 123.75,343.19 124.00,342.65 124.25,342.18 124.50,341.79 124.75,341.52 125.00,341.39 125.25,341.40 125.50,341.56 125.75,341.87 126.00,342.30 126.25,342.84 126.50,343.46 126.75,344.12 127.00,344.79" stroke="#4a8c4a" stroke-width="1.5" fill="none" class="aa"/>
<ellipse cx="103.2" cy="331.1" rx="15.1" ry="9.9" fill="#f3e629" stroke="#222" stroke-width="0.7"/>
<text x="103.40" y="334.90" font-size="9.8" text-anchor="middle" fill="#111">Pparα</text>
<text x="113.60" y="308.30" font-size="9.3" fill="#333">fatty acid</text>
<path d="M111.5,305.5 C106,306.5 103,310 102.8,315.5" fill="none" stroke="#2c3f9a" stroke-width="1.3"/>
<path d="M102.8,319.5 L100.2,314.8 L105.4,314.8 Z" fill="#2c3f9a"/>
<line x1="122.60" y1="331.30" x2="137.50" y2="331.30" stroke="#e5202e" stroke-width="1.3"/>
<line x1="122.60" y1="326.30" x2="122.60" y2="336.30" stroke="#e5202e" stroke-width="1.3"/>
<text x="141.00" y="334.40" font-size="8.75" fill="#333">GW-6471</text>
<line x1="103.00" y1="346.50" x2="103.00" y2="359.50" stroke="#3d6cc0" stroke-width="1.3"/>
<path d="M103,362.5 L100.4,358 L105.6,358 Z" fill="#3d6cc0"/>
<rect x="92.70" y="363.70" width="24.10" height="11.80" fill="#fff" stroke="#333" stroke-width="0.7"/>
<text x="104.70" y="373.00" font-size="9.3" text-anchor="middle" fill="#222">Cpt1</text>
<line x1="122.20" y1="364.90" x2="137.00" y2="364.90" stroke="#e5202e" stroke-width="1.3"/>
<line x1="122.20" y1="360.00" x2="122.20" y2="369.80" stroke="#e5202e" stroke-width="1.3"/>
<text x="141.00" y="367.60" font-size="9.1" fill="#333">Etomoxir</text>
<text x="58.00" y="372.20" font-size="6.9" fill="#333">acyl-CoA</text>
<rect x="81.5" y="374.6" width="45.8" height="23" rx="11.5" ry="11.5" fill="#fff" stroke="#222" stroke-width="0.8"/>
<path d="M85,386 q0,-8 5,-8 q3,0 3,5 l0,8 q1,3 3,0 l0,-10 q2,-3 4,0 l0,10 q1,3 3,0 l0,-10 q2,-3 4,0 l0,10 q1,3 3,0 l0,-10 q2,-3 4,0 l0,10 q1,3 3,0 l0,-8 q2,-4 4,0 q1,2 -1,5" fill="none" stroke="#444" stroke-width="0.5"/>
<rect x="83.8" y="376.6" width="41.2" height="19" rx="9.5" ry="9.5" fill="none" stroke="#555" stroke-width="0.5"/>
<path d="M88.5,372.5 C92,375 91,380 87.5,385" fill="none" stroke="#111" stroke-width="0.8"/>
<path d="M87,386.5 L86.8,382.5 L89.2,383.6 Z" fill="#111"/>
<text x="195.80" y="308.20" font-size="12.5" font-weight="bold" fill="#111">m</text>
<text x="225.70" y="303.90" font-size="8.8" fill="#222">Fatty Acid Oxidation <tspan font-size="5.5" dy="-3.2">14</tspan><tspan dy="3.2">CO2</tspan></text>
<line x1="233.20" y1="318.40" x2="233.20" y2="408.40" stroke="#333" stroke-width="0.8"/>
<line x1="229.70" y1="408.40" x2="233.20" y2="408.40" stroke="#333" stroke-width="0.8"/>
<text x="227.70" y="410.70" font-size="6.4" text-anchor="end" fill="#333">0</text>
<line x1="229.70" y1="390.40" x2="233.20" y2="390.40" stroke="#333" stroke-width="0.8"/>
<text x="227.70" y="392.70" font-size="6.4" text-anchor="end" fill="#333">500</text>
<line x1="229.70" y1="372.40" x2="233.20" y2="372.40" stroke="#333" stroke-width="0.8"/>
<text x="227.70" y="374.70" font-size="6.4" text-anchor="end" fill="#333">1000</text>
<line x1="229.70" y1="354.40" x2="233.20" y2="354.40" stroke="#333" stroke-width="0.8"/>
<text x="227.70" y="356.70" font-size="6.4" text-anchor="end" fill="#333">1500</text>
<line x1="229.70" y1="336.40" x2="233.20" y2="336.40" stroke="#333" stroke-width="0.8"/>
<text x="227.70" y="338.70" font-size="6.4" text-anchor="end" fill="#333">2000</text>
<line x1="229.70" y1="318.40" x2="233.20" y2="318.40" stroke="#333" stroke-width="0.8"/>
<text x="227.70" y="320.70" font-size="6.4" text-anchor="end" fill="#333">2500</text>
<line x1="233.20" y1="408.40" x2="324.30" y2="408.40" stroke="#333" stroke-width="0.8"/>
<line x1="246.90" y1="408.40" x2="246.90" y2="410.90" stroke="#333" stroke-width="0.8"/>
<line x1="267.80" y1="408.40" x2="267.80" y2="410.90" stroke="#333" stroke-width="0.8"/>
<line x1="288.60" y1="408.40" x2="288.60" y2="410.90" stroke="#333" stroke-width="0.8"/>
<line x1="309.30" y1="408.40" x2="309.30" y2="410.90" stroke="#333" stroke-width="0.8"/>
<rect x="240.20" y="380.40" width="13.30" height="28.00" fill="#fff" stroke="#333" stroke-width="0.8"/>
<rect x="261.30" y="348.40" width="13.10" height="60.00" fill="#5b8dcb" stroke="#333" stroke-width="0.8"/>
<rect x="282.00" y="394.00" width="13.30" height="14.40" fill="#d9d9d9" stroke="#333" stroke-width="0.8"/>
<rect x="302.50" y="377.00" width="13.60" height="31.40" fill="#c6dbf0" stroke="#333" stroke-width="0.8"/>
<line x1="246.90" y1="367.50" x2="246.90" y2="393.30" stroke="#444" stroke-width="0.8"/>
<line x1="243.50" y1="367.50" x2="250.30" y2="367.50" stroke="#444" stroke-width="0.8"/>
<line x1="243.50" y1="393.30" x2="250.30" y2="393.30" stroke="#444" stroke-width="0.8"/>
<line x1="267.80" y1="333.70" x2="267.80" y2="362.20" stroke="#444" stroke-width="0.8"/>
<line x1="264.40" y1="333.70" x2="271.20" y2="333.70" stroke="#444" stroke-width="0.8"/>
<line x1="264.40" y1="362.20" x2="271.20" y2="362.20" stroke="#444" stroke-width="0.8"/>
<line x1="288.60" y1="389.50" x2="288.60" y2="394.00" stroke="#555" stroke-width="0.7"/>
<line x1="286.00" y1="390.50" x2="291.20" y2="390.50" stroke="#555" stroke-width="0.7"/>
<line x1="304.00" y1="378.20" x2="313.90" y2="377.90" stroke="#333" stroke-width="0.8" class="aa"/>
<circle cx="246.90" cy="366.10" r="1.8" fill="#111" stroke="none" stroke-width="0.6"/>
<circle cx="246.90" cy="384.70" r="1.8" fill="#111" stroke="none" stroke-width="0.6"/>
<circle cx="246.90" cy="390.80" r="1.8" fill="#111" stroke="none" stroke-width="0.6"/>
<rect x="266.20" y="336.40" width="3.2" height="3.2" fill="#2e3d9e" stroke="#2e3d9e" stroke-width="0.5"/>
<rect x="266.20" y="356.80" width="3.2" height="3.2" fill="#2e3d9e" stroke="#2e3d9e" stroke-width="0.5"/>
<rect x="286.70" y="388.00" width="3.0" height="3.0" fill="#eee" stroke="#333" stroke-width="0.7"/>
<rect x="282.00" y="394.00" width="3.0" height="3.0" fill="#eee" stroke="#333" stroke-width="0.7"/>
<rect x="286.70" y="394.00" width="3.0" height="3.0" fill="#eee" stroke="#333" stroke-width="0.7"/>
<rect x="291.50" y="393.50" width="3.0" height="3.0" fill="#eee" stroke="#333" stroke-width="0.7"/>
<rect x="302.50" y="377.00" width="3.0" height="3.0" fill="#fff" stroke="#111" stroke-width="0.8"/>
<rect x="312.40" y="376.40" width="3.0" height="3.0" fill="#fff" stroke="#111" stroke-width="0.8"/>
<rect x="302.5" y="377" width="1.5" height="3" fill="#111"/><rect x="312.4" y="376.4" width="1.5" height="3" fill="#111"/>
<text x="0.00" y="0.00" font-size="8.9" transform="translate(211.60,408.30) rotate(-90)"><tspan font-size="5.4" dy="-3.4">14</tspan><tspan dy="3.4">C CO2 (DPM per mg)</tspan></text>
<text x="246.50" y="419.30" font-size="6.6" text-anchor="middle" fill="#333">DMSO</text>
<text x="267.70" y="419.30" font-size="6.6" text-anchor="middle" fill="#333">Wy</text>
<text x="288.60" y="419.30" font-size="6.6" text-anchor="middle" fill="#333">Eto</text>
<text x="309.50" y="419.30" font-size="6.6" text-anchor="middle" fill="#333">Wy+Eto</text>
<text x="350.50" y="307.30" font-size="12.5" font-weight="bold" fill="#111">n</text>
<text x="378.90" y="304.50" font-size="8.95" fill="#222">3H GlySar transepithelial &#160;(4h)</text>
<line x1="405.20" y1="317.60" x2="405.20" y2="410.30" stroke="#333" stroke-width="0.8"/>
<line x1="401.80" y1="410.30" x2="405.20" y2="410.30" stroke="#333" stroke-width="0.8"/>
<text x="400.40" y="412.78" font-size="6.9" text-anchor="end" fill="#333">3500</text>
<line x1="401.80" y1="394.85" x2="405.20" y2="394.85" stroke="#333" stroke-width="0.8"/>
<text x="400.40" y="397.33" font-size="6.9" text-anchor="end" fill="#333">4000</text>
<line x1="401.80" y1="379.40" x2="405.20" y2="379.40" stroke="#333" stroke-width="0.8"/>
<text x="400.40" y="381.88" font-size="6.9" text-anchor="end" fill="#333">4500</text>
<line x1="401.80" y1="363.95" x2="405.20" y2="363.95" stroke="#333" stroke-width="0.8"/>
<text x="400.40" y="366.43" font-size="6.9" text-anchor="end" fill="#333">5000</text>
<line x1="401.80" y1="348.50" x2="405.20" y2="348.50" stroke="#333" stroke-width="0.8"/>
<text x="400.40" y="350.98" font-size="6.9" text-anchor="end" fill="#333">5500</text>
<line x1="401.80" y1="333.05" x2="405.20" y2="333.05" stroke="#333" stroke-width="0.8"/>
<text x="400.40" y="335.53" font-size="6.9" text-anchor="end" fill="#333">6000</text>
<line x1="401.80" y1="317.60" x2="405.20" y2="317.60" stroke="#333" stroke-width="0.8"/>
<text x="400.40" y="320.08" font-size="6.9" text-anchor="end" fill="#333">6500</text>
<line x1="405.20" y1="410.30" x2="498.40" y2="410.30" stroke="#333" stroke-width="0.8"/>
<line x1="419.70" y1="410.30" x2="419.70" y2="412.80" stroke="#333" stroke-width="0.8"/>
<line x1="441.30" y1="410.30" x2="441.30" y2="412.80" stroke="#333" stroke-width="0.8"/>
<line x1="462.50" y1="410.30" x2="462.50" y2="412.80" stroke="#333" stroke-width="0.8"/>
<line x1="484.50" y1="410.30" x2="484.50" y2="412.80" stroke="#333" stroke-width="0.8"/>
<rect x="412.40" y="374.20" width="14.40" height="36.10" fill="#fff" stroke="#333" stroke-width="0.8"/>
<rect x="434.30" y="351.50" width="13.90" height="58.80" fill="#5b8dcb" stroke="#333" stroke-width="0.8"/>
<rect x="455.50" y="352.10" width="14.10" height="58.20" fill="#d4d4d4" stroke="#444" stroke-width="0.8"/>
<rect x="477.40" y="370.50" width="14.00" height="39.80" fill="#c6dbf0" stroke="#444" stroke-width="0.8"/>
<line x1="419.70" y1="357.00" x2="419.70" y2="390.00" stroke="#222" stroke-width="0.8"/>
<line x1="416.50" y1="357.00" x2="422.90" y2="357.00" stroke="#222" stroke-width="0.8"/>
<line x1="416.50" y1="390.00" x2="422.90" y2="390.00" stroke="#222" stroke-width="0.8"/>
<circle cx="419.70" cy="355.80" r="1.9" fill="#111" stroke="none" stroke-width="0.6"/>
<circle cx="414.20" cy="363.20" r="1.9" fill="#111" stroke="none" stroke-width="0.6"/>
<circle cx="425.10" cy="363.20" r="1.9" fill="#111" stroke="none" stroke-width="0.6"/>
<circle cx="419.70" cy="373.60" r="1.9" fill="#111" stroke="none" stroke-width="0.6"/>
<circle cx="419.70" cy="390.50" r="1.9" fill="#111" stroke="none" stroke-width="0.6"/>
<circle cx="419.70" cy="396.00" r="1.9" fill="#111" stroke="none" stroke-width="0.6"/>
<line x1="441.30" y1="336.20" x2="441.30" y2="365.40" stroke="#2e3d9e" stroke-width="0.8"/>
<line x1="438.00" y1="336.20" x2="444.60" y2="336.20" stroke="#2e3d9e" stroke-width="0.8"/>
<line x1="438.00" y1="365.40" x2="444.60" y2="365.40" stroke="#2e3d9e" stroke-width="0.8"/>
<rect x="439.60" y="329.70" width="3.4" height="3.4" fill="#2e3d9e" stroke="#2e3d9e" stroke-width="0.5"/>
<rect x="434.10" y="340.20" width="3.4" height="3.4" fill="#2e3d9e" stroke="#2e3d9e" stroke-width="0.5"/>
<rect x="445.00" y="341.70" width="3.4" height="3.4" fill="#2e3d9e" stroke="#2e3d9e" stroke-width="0.5"/>
<rect x="439.60" y="355.20" width="3.4" height="3.4" fill="#2e3d9e" stroke="#2e3d9e" stroke-width="0.5"/>
<rect x="439.60" y="358.20" width="3.4" height="3.4" fill="#2e3d9e" stroke="#2e3d9e" stroke-width="0.5"/>
<rect x="439.60" y="369.10" width="3.4" height="3.4" fill="#2e3d9e" stroke="#2e3d9e" stroke-width="0.5"/>
<line x1="462.50" y1="335.30" x2="462.50" y2="367.40" stroke="#444" stroke-width="0.8"/>
<line x1="459.20" y1="335.30" x2="465.80" y2="335.30" stroke="#444" stroke-width="0.8"/>
<line x1="459.20" y1="367.40" x2="465.80" y2="367.40" stroke="#444" stroke-width="0.8"/>
<rect x="460.80" y="330.10" width="3.4" height="3.4" fill="#fff" stroke="#333" stroke-width="0.7"/>
<rect x="460.80" y="337.00" width="3.4" height="3.4" fill="#fff" stroke="#333" stroke-width="0.7"/>
<rect x="460.80" y="347.20" width="3.4" height="3.4" fill="#fff" stroke="#333" stroke-width="0.7"/>
<rect x="460.80" y="352.30" width="3.4" height="3.4" fill="#fff" stroke="#333" stroke-width="0.7"/>
<rect x="460.80" y="357.00" width="3.4" height="3.4" fill="#fff" stroke="#333" stroke-width="0.7"/>
<rect x="460.80" y="375.40" width="3.4" height="3.4" fill="#fff" stroke="#333" stroke-width="0.7"/>
<line x1="484.50" y1="361.20" x2="484.50" y2="379.70" stroke="#333" stroke-width="0.8"/>
<line x1="481.20" y1="361.20" x2="487.80" y2="361.20" stroke="#333" stroke-width="0.8"/>
<line x1="481.20" y1="379.70" x2="487.80" y2="379.70" stroke="#333" stroke-width="0.8"/>
<rect x="477.35" y="362.25" width="3.3" height="3.3" fill="#fff" stroke="#111" stroke-width="0.8"/>
<rect x="477.35" y="362.25" width="1.6" height="3.3" fill="#111"/>
<rect x="488.55" y="358.15" width="3.3" height="3.3" fill="#fff" stroke="#111" stroke-width="0.8"/>
<rect x="488.55" y="358.15" width="1.6" height="3.3" fill="#111"/>
<rect x="488.55" y="363.65" width="3.3" height="3.3" fill="#fff" stroke="#111" stroke-width="0.8"/>
<rect x="488.55" y="363.65" width="1.6" height="3.3" fill="#111"/>
<rect x="482.85" y="368.75" width="3.3" height="3.3" fill="#fff" stroke="#111" stroke-width="0.8"/>
<rect x="482.85" y="368.75" width="1.6" height="3.3" fill="#111"/>
<rect x="482.85" y="375.95" width="3.3" height="3.3" fill="#fff" stroke="#111" stroke-width="0.8"/>
<rect x="482.85" y="375.95" width="1.6" height="3.3" fill="#111"/>
<rect x="482.85" y="382.75" width="3.3" height="3.3" fill="#fff" stroke="#111" stroke-width="0.8"/>
<rect x="482.85" y="382.75" width="1.6" height="3.3" fill="#111"/>
<polyline points="419.40,318.00 419.40,313.40 462.80,313.40 462.80,317.50" stroke="#444" stroke-width="0.7" fill="none"/>
<polyline points="419.40,343.50 419.40,322.60 441.60,322.60 441.60,326.30" stroke="#444" stroke-width="0.7" fill="none"/>
<polyline points="462.80,327.00 462.80,322.60 484.40,322.60 484.40,343.50" stroke="#444" stroke-width="0.7" fill="none"/>
<polyline points="440.10,392.30 440.10,397.40 485.70,397.40 485.70,392.30" stroke="#444" stroke-width="0.7" fill="none"/>
<text x="441.60" y="312.20" font-size="3.6" text-anchor="middle" fill="#666"><tspan font-style="italic">P</tspan>=0.0388</text>
<text x="429.80" y="321.40" font-size="3.6" text-anchor="middle" fill="#666"><tspan font-style="italic">P</tspan>=0.0273</text>
<text x="473.70" y="321.40" font-size="3.6" text-anchor="middle" fill="#666"><tspan font-style="italic">P</tspan>=0.0026</text>
<text x="460.00" y="395.30" font-size="3.6" text-anchor="middle" fill="#666"><tspan font-style="italic">P</tspan>=0.0104</text>
<polygon points="441.90,314.44 442.48,315.60 443.76,315.79 442.83,316.70 443.05,317.98 441.90,317.38 440.75,317.98 440.97,316.70 440.04,315.79 441.32,315.60" fill="#222"/>
<polygon points="430.40,324.74 430.98,325.90 432.26,326.09 431.33,327.00 431.55,328.28 430.40,327.68 429.25,328.28 429.47,327.00 428.54,326.09 429.82,325.90" fill="#222"/>
<polygon points="474.50,324.94 475.08,326.10 476.36,326.29 475.43,327.20 475.65,328.48 474.50,327.88 473.35,328.48 473.57,327.20 472.64,326.29 473.92,326.10" fill="#222"/>
<polygon points="463.50,398.54 464.08,399.70 465.36,399.89 464.43,400.80 464.65,402.08 463.50,401.48 462.35,402.08 462.57,400.80 461.64,399.89 462.92,399.70" fill="#222"/>
<text x="0.00" y="0.00" font-size="9.3" transform="translate(381.00,399.20) rotate(-90)"><tspan font-size="6" dy="-3.4">3</tspan><tspan dy="3.4">H GlySar (DPM)</tspan></text>
<text x="419.70" y="421.60" font-size="7.0" text-anchor="middle" fill="#333">DMSO</text>
<text x="441.20" y="421.60" font-size="7.0" text-anchor="middle" fill="#333">Wy</text>
<text x="463.00" y="421.60" font-size="7.0" text-anchor="middle" fill="#333">Eto</text>
<text x="485.10" y="421.60" font-size="7.0" text-anchor="middle" fill="#333">Wy+Eto</text>
<text x="509.60" y="306.80" font-size="12.5" font-weight="bold" fill="#111">o</text>
<text x="543.70" y="304.60" font-size="9.0" fill="#222">Palmitate absorption (4h)</text>
<line x1="550.30" y1="316.40" x2="550.30" y2="409.40" stroke="#333" stroke-width="0.8"/>
<line x1="546.90" y1="409.40" x2="550.30" y2="409.40" stroke="#333" stroke-width="0.8"/>
<text x="545.60" y="411.92" font-size="7.0" text-anchor="end" fill="#333">80</text>
<line x1="546.90" y1="390.80" x2="550.30" y2="390.80" stroke="#333" stroke-width="0.8"/>
<text x="545.60" y="393.32" font-size="7.0" text-anchor="end" fill="#333">100</text>
<line x1="546.90" y1="372.20" x2="550.30" y2="372.20" stroke="#333" stroke-width="0.8"/>
<text x="545.60" y="374.72" font-size="7.0" text-anchor="end" fill="#333">120</text>
<line x1="546.90" y1="353.60" x2="550.30" y2="353.60" stroke="#333" stroke-width="0.8"/>
<text x="545.60" y="356.12" font-size="7.0" text-anchor="end" fill="#333">140</text>
<line x1="546.90" y1="335.00" x2="550.30" y2="335.00" stroke="#333" stroke-width="0.8"/>
<text x="545.60" y="337.52" font-size="7.0" text-anchor="end" fill="#333">160</text>
<line x1="546.90" y1="316.40" x2="550.30" y2="316.40" stroke="#333" stroke-width="0.8"/>
<text x="545.60" y="318.92" font-size="7.0" text-anchor="end" fill="#333">180</text>
<line x1="550.30" y1="409.40" x2="643.50" y2="409.40" stroke="#333" stroke-width="0.8"/>
<line x1="564.40" y1="409.40" x2="564.40" y2="411.90" stroke="#333" stroke-width="0.8"/>
<line x1="585.80" y1="409.40" x2="585.80" y2="411.90" stroke="#333" stroke-width="0.8"/>
<line x1="607.40" y1="409.40" x2="607.40" y2="411.90" stroke="#333" stroke-width="0.8"/>
<line x1="628.90" y1="409.40" x2="628.90" y2="411.90" stroke="#333" stroke-width="0.8"/>
<rect x="557.10" y="392.00" width="14.60" height="17.40" fill="#fff" stroke="#333" stroke-width="0.8"/>
<rect x="579.40" y="376.80" width="13.60" height="32.60" fill="#5b8dcb" stroke="#333" stroke-width="0.8"/>
<rect x="600.40" y="380.10" width="14.20" height="29.30" fill="#d4d4d4" stroke="#444" stroke-width="0.8"/>
<rect x="621.60" y="365.20" width="14.40" height="44.20" fill="#c6dbf0" stroke="#444" stroke-width="0.8"/>
<polyline points="564.40,367.60 564.40,320.70 628.90,320.70 628.90,324.10" stroke="#444" stroke-width="0.8" fill="none"/>
<line x1="564.40" y1="329.90" x2="607.40" y2="329.90" stroke="#444" stroke-width="0.8"/>
<line x1="607.40" y1="329.90" x2="607.40" y2="351.80" stroke="#444" stroke-width="0.8"/>
<line x1="564.40" y1="337.70" x2="586.60" y2="337.70" stroke="#444" stroke-width="0.8"/>
<line x1="586.60" y1="337.70" x2="586.60" y2="340.60" stroke="#444" stroke-width="0.8"/>
<polygon points="593.50,313.64 594.08,314.80 595.36,314.99 594.43,315.90 594.65,317.18 593.50,316.58 592.35,317.18 592.57,315.90 591.64,314.99 592.92,314.80" fill="#222"/>
<text x="601.30" y="317.20" font-size="6.6" fill="#333"><tspan font-style="italic">P</tspan>=0.0141</text>
<polygon points="578.41,323.40 579.00,324.59 580.31,324.78 579.36,325.71 579.59,327.02 578.41,326.40 577.23,327.02 577.46,325.71 576.51,324.78 577.82,324.59" fill="#222"/>
<polygon points="582.30,323.40 582.89,324.59 584.20,324.78 583.25,325.71 583.48,327.02 582.30,326.40 581.12,327.02 581.35,325.71 580.40,324.78 581.71,324.59" fill="#222"/>
<polygon points="586.19,323.40 586.78,324.59 588.09,324.78 587.14,325.71 587.37,327.02 586.19,326.40 585.01,327.02 585.24,325.71 584.29,324.78 585.60,324.59" fill="#222"/>
<text x="591.70" y="327.00" font-size="6.6" fill="#333"><tspan font-style="italic">P</tspan>=0.0008</text>
<polygon points="572.70,331.54 573.28,332.70 574.56,332.89 573.63,333.80 573.85,335.08 572.70,334.48 571.55,335.08 571.77,333.80 570.84,332.89 572.12,332.70" fill="#222"/>
<text x="578.00" y="335.30" font-size="6.6" fill="#333"><tspan font-style="italic">P</tspan>=0.0226</text>
<line x1="564.40" y1="389.00" x2="564.40" y2="395.00" stroke="#222" stroke-width="0.8"/>
<line x1="561.50" y1="389.00" x2="567.30" y2="389.00" stroke="#222" stroke-width="0.8"/>
<circle cx="558.90" cy="392.60" r="1.8" fill="#111" stroke="none" stroke-width="0.6"/>
<circle cx="562.40" cy="388.90" r="1.8" fill="#111" stroke="none" stroke-width="0.6"/>
<circle cx="566.40" cy="391.50" r="1.8" fill="#111" stroke="none" stroke-width="0.6"/>
<circle cx="569.90" cy="387.10" r="1.8" fill="#111" stroke="none" stroke-width="0.6"/>
<circle cx="570.30" cy="392.00" r="1.8" fill="#111" stroke="none" stroke-width="0.6"/>
<circle cx="558.90" cy="395.20" r="1.8" fill="#111" stroke="none" stroke-width="0.6"/>
<circle cx="563.50" cy="392.50" r="1.8" fill="#111" stroke="none" stroke-width="0.6"/>
<line x1="585.80" y1="362.60" x2="585.80" y2="389.90" stroke="#777" stroke-width="0.8"/>
<line x1="582.30" y1="362.60" x2="589.30" y2="362.60" stroke="#777" stroke-width="0.8"/>
<line x1="582.30" y1="389.90" x2="589.30" y2="389.90" stroke="#777" stroke-width="0.8"/>
<rect x="584.15" y="347.95" width="3.3" height="3.3" fill="#2e3d9e" stroke="#2e3d9e" stroke-width="0.5"/>
<rect x="579.15" y="378.15" width="3.3" height="3.3" fill="#2e3d9e" stroke="#2e3d9e" stroke-width="0.5"/>
<rect x="584.05" y="379.85" width="3.3" height="3.3" fill="#2e3d9e" stroke="#2e3d9e" stroke-width="0.5"/>
<rect x="589.25" y="378.15" width="3.3" height="3.3" fill="#2e3d9e" stroke="#2e3d9e" stroke-width="0.5"/>
<rect x="579.15" y="384.25" width="3.3" height="3.3" fill="#2e3d9e" stroke="#2e3d9e" stroke-width="0.5"/>
<rect x="589.25" y="382.55" width="3.3" height="3.3" fill="#2e3d9e" stroke="#2e3d9e" stroke-width="0.5"/>
<line x1="607.40" y1="374.50" x2="607.40" y2="384.00" stroke="#444" stroke-width="0.8"/>
<line x1="604.40" y1="375.50" x2="610.40" y2="375.50" stroke="#444" stroke-width="0.8"/>
<rect x="605.95" y="369.05" width="3.3" height="3.3" fill="#eee" stroke="#333" stroke-width="0.7"/>
<rect x="601.35" y="380.35" width="3.3" height="3.3" fill="#eee" stroke="#333" stroke-width="0.7"/>
<rect x="605.75" y="378.85" width="3.3" height="3.3" fill="#eee" stroke="#333" stroke-width="0.7"/>
<rect x="610.15" y="380.85" width="3.3" height="3.3" fill="#eee" stroke="#333" stroke-width="0.7"/>
<line x1="628.90" y1="343.40" x2="628.90" y2="386.30" stroke="#666" stroke-width="0.8"/>
<line x1="625.40" y1="343.40" x2="632.40" y2="343.40" stroke="#444" stroke-width="0.8"/>
<line x1="625.40" y1="386.30" x2="632.40" y2="386.30" stroke="#444" stroke-width="0.8"/>
<rect x="627.25" y="327.55" width="3.3" height="3.3" fill="#fff" stroke="#111" stroke-width="0.8"/>
<rect x="627.25" y="327.55" width="1.6" height="3.3" fill="#111"/>
<rect x="627.25" y="354.45" width="3.3" height="3.3" fill="#fff" stroke="#111" stroke-width="0.8"/>
<rect x="627.25" y="354.45" width="1.6" height="3.3" fill="#111"/>
<rect x="627.25" y="357.95" width="3.3" height="3.3" fill="#fff" stroke="#111" stroke-width="0.8"/>
<rect x="627.25" y="357.95" width="1.6" height="3.3" fill="#111"/>
<rect x="627.25" y="366.75" width="3.3" height="3.3" fill="#fff" stroke="#111" stroke-width="0.8"/>
<rect x="627.25" y="366.75" width="1.6" height="3.3" fill="#111"/>
<rect x="622.05" y="385.65" width="3.3" height="3.3" fill="#fff" stroke="#111" stroke-width="0.8"/>
<rect x="622.05" y="385.65" width="1.6" height="3.3" fill="#111"/>
<rect x="633.05" y="384.25" width="3.3" height="3.3" fill="#fff" stroke="#111" stroke-width="0.8"/>
<rect x="633.05" y="384.25" width="1.6" height="3.3" fill="#111"/>
<text x="0.00" y="0.00" font-size="9.2" transform="translate(530.20,402.60) rotate(-90)">FFA absorption (µM)</text>
<text x="564.50" y="420.20" font-size="7.0" text-anchor="middle" fill="#333">DMSO</text>
<text x="586.00" y="420.20" font-size="7.0" text-anchor="middle" fill="#333">Wy</text>
<text x="607.40" y="420.20" font-size="7.0" text-anchor="middle" fill="#333">Eto</text>
<text x="629.00" y="420.20" font-size="7.0" text-anchor="middle" fill="#333">Wy+Eto</text>
<text x="16.30" y="435.00" font-size="12.5" font-weight="bold" fill="#111">p</text>
<line x1="54.80" y1="440.82" x2="54.80" y2="552.60" stroke="#333" stroke-width="0.8"/>
<line x1="51.00" y1="552.60" x2="54.80" y2="552.60" stroke="#333" stroke-width="0.8"/>
<text x="49.00" y="556.56" font-size="11.0" text-anchor="end" fill="#333">0</text>
<line x1="51.00" y1="515.34" x2="54.80" y2="515.34" stroke="#333" stroke-width="0.8"/>
<text x="49.00" y="519.30" font-size="11.0" text-anchor="end" fill="#333">2</text>
<line x1="51.00" y1="478.08" x2="54.80" y2="478.08" stroke="#333" stroke-width="0.8"/>
<text x="49.00" y="482.04" font-size="11.0" text-anchor="end" fill="#333">4</text>
<line x1="51.00" y1="440.82" x2="54.80" y2="440.82" stroke="#333" stroke-width="0.8"/>
<text x="49.00" y="444.78" font-size="11.0" text-anchor="end" fill="#333">6</text>
<line x1="54.80" y1="552.60" x2="227.80" y2="552.60" stroke="#333" stroke-width="0.8"/>
<line x1="68.30" y1="552.60" x2="68.30" y2="555.60" stroke="#333" stroke-width="0.8"/>
<line x1="97.50" y1="552.60" x2="97.50" y2="555.60" stroke="#333" stroke-width="0.8"/>
<line x1="126.70" y1="552.60" x2="126.70" y2="555.60" stroke="#333" stroke-width="0.8"/>
<line x1="155.90" y1="552.60" x2="155.90" y2="555.60" stroke="#333" stroke-width="0.8"/>
<line x1="185.10" y1="552.60" x2="185.10" y2="555.60" stroke="#333" stroke-width="0.8"/>
<line x1="214.30" y1="552.60" x2="214.30" y2="555.60" stroke="#333" stroke-width="0.8"/>
<rect x="57.10" y="533.97" width="4.50" height="18.63" fill="#fff" stroke="#444" stroke-width="0.6"/>
<line x1="59.35" y1="529.31" x2="59.35" y2="538.63" stroke="#444" stroke-width="0.6"/>
<line x1="57.75" y1="529.31" x2="60.95" y2="529.31" stroke="#444" stroke-width="0.6"/>
<circle cx="59.49" cy="534.46" r="1.3" fill="#111" stroke="none" stroke-width="0.6"/>
<circle cx="59.27" cy="529.62" r="1.3" fill="#111" stroke="none" stroke-width="0.6"/>
<circle cx="59.56" cy="533.89" r="1.3" fill="#111" stroke="none" stroke-width="0.6"/>
<circle cx="59.38" cy="537.20" r="1.3" fill="#111" stroke="none" stroke-width="0.6"/>
<circle cx="60.05" cy="532.64" r="1.3" fill="#111" stroke="none" stroke-width="0.6"/>
<circle cx="58.88" cy="538.13" r="1.3" fill="#111" stroke="none" stroke-width="0.6"/>
<rect x="63.70" y="534.90" width="4.50" height="17.70" fill="#5b8dcb" stroke="#444" stroke-width="0.6"/>
<line x1="65.95" y1="531.18" x2="65.95" y2="538.63" stroke="#2e3d9e" stroke-width="0.6"/>
<line x1="64.35" y1="531.18" x2="67.55" y2="531.18" stroke="#2e3d9e" stroke-width="0.6"/>
<circle cx="66.69" cy="538.26" r="1.35" fill="#2e3d9e" stroke="none" stroke-width="0.6"/>
<circle cx="64.85" cy="533.32" r="1.35" fill="#2e3d9e" stroke="none" stroke-width="0.6"/>
<circle cx="67.07" cy="530.95" r="1.35" fill="#2e3d9e" stroke="none" stroke-width="0.6"/>
<circle cx="66.23" cy="533.64" r="1.35" fill="#2e3d9e" stroke="none" stroke-width="0.6"/>
<circle cx="64.79" cy="537.71" r="1.35" fill="#2e3d9e" stroke="none" stroke-width="0.6"/>
<circle cx="64.89" cy="534.67" r="1.35" fill="#2e3d9e" stroke="none" stroke-width="0.6"/>
<rect x="69.90" y="533.04" width="4.50" height="19.56" fill="#d4d4d4" stroke="#444" stroke-width="0.6"/>
<line x1="72.15" y1="530.24" x2="72.15" y2="535.83" stroke="#444" stroke-width="0.6"/>
<line x1="70.55" y1="530.24" x2="73.75" y2="530.24" stroke="#444" stroke-width="0.6"/>
<rect x="70.53" y="533.94" width="2.0" height="2.0" fill="#fff" stroke="#222" stroke-width="0.5"/>
<rect x="71.06" y="534.93" width="2.0" height="2.0" fill="#fff" stroke="#222" stroke-width="0.5"/>
<rect x="71.97" y="532.40" width="2.0" height="2.0" fill="#fff" stroke="#222" stroke-width="0.5"/>
<rect x="71.49" y="531.92" width="2.0" height="2.0" fill="#fff" stroke="#222" stroke-width="0.5"/>
<rect x="71.54" y="532.04" width="2.0" height="2.0" fill="#fff" stroke="#222" stroke-width="0.5"/>
<rect x="70.62" y="532.30" width="2.0" height="2.0" fill="#fff" stroke="#222" stroke-width="0.5"/>
<rect x="76.10" y="533.97" width="4.50" height="18.63" fill="#c6dbf0" stroke="#444" stroke-width="0.6"/>
<line x1="78.35" y1="530.24" x2="78.35" y2="537.70" stroke="#444" stroke-width="0.6"/>
<line x1="76.75" y1="530.24" x2="79.95" y2="530.24" stroke="#444" stroke-width="0.6"/>
<rect x="78.54" y="528.89" width="2.0" height="2.0" fill="#fff" stroke="#111" stroke-width="0.5"/>
<rect x="78.54" y="528.89" width="1" height="2" fill="#111"/>
<rect x="77.85" y="530.18" width="2.0" height="2.0" fill="#fff" stroke="#111" stroke-width="0.5"/>
<rect x="77.85" y="530.18" width="1" height="2" fill="#111"/>
<rect x="76.70" y="534.48" width="2.0" height="2.0" fill="#fff" stroke="#111" stroke-width="0.5"/>
<rect x="76.70" y="534.48" width="1" height="2" fill="#111"/>
<rect x="76.32" y="534.70" width="2.0" height="2.0" fill="#fff" stroke="#111" stroke-width="0.5"/>
<rect x="76.32" y="534.70" width="1" height="2" fill="#111"/>
<rect x="77.11" y="530.79" width="2.0" height="2.0" fill="#fff" stroke="#111" stroke-width="0.5"/>
<rect x="77.11" y="530.79" width="1" height="2" fill="#111"/>
<rect x="77.08" y="530.13" width="2.0" height="2.0" fill="#fff" stroke="#111" stroke-width="0.5"/>
<rect x="77.08" y="530.13" width="1" height="2" fill="#111"/>
<rect x="86.30" y="533.04" width="4.50" height="19.56" fill="#fff" stroke="#444" stroke-width="0.6"/>
<line x1="88.55" y1="528.38" x2="88.55" y2="537.70" stroke="#444" stroke-width="0.6"/>
<line x1="86.95" y1="528.38" x2="90.15" y2="528.38" stroke="#444" stroke-width="0.6"/>
<circle cx="89.38" cy="528.35" r="1.3" fill="#111" stroke="none" stroke-width="0.6"/>
<circle cx="87.85" cy="538.16" r="1.3" fill="#111" stroke="none" stroke-width="0.6"/>
<circle cx="88.48" cy="528.83" r="1.3" fill="#111" stroke="none" stroke-width="0.6"/>
<circle cx="88.30" cy="528.12" r="1.3" fill="#111" stroke="none" stroke-width="0.6"/>
<circle cx="88.86" cy="537.41" r="1.3" fill="#111" stroke="none" stroke-width="0.6"/>
<circle cx="88.00" cy="530.18" r="1.3" fill="#111" stroke="none" stroke-width="0.6"/>
<rect x="92.90" y="499.13" width="4.50" height="53.47" fill="#5b8dcb" stroke="#444" stroke-width="0.6"/>
<line x1="95.15" y1="480.50" x2="95.15" y2="517.76" stroke="#2e3d9e" stroke-width="0.6"/>
<line x1="93.55" y1="480.50" x2="96.75" y2="480.50" stroke="#2e3d9e" stroke-width="0.6"/>
<circle cx="94.75" cy="516.05" r="1.35" fill="#2e3d9e" stroke="none" stroke-width="0.6"/>
<circle cx="95.77" cy="480.11" r="1.35" fill="#2e3d9e" stroke="none" stroke-width="0.6"/>
<circle cx="94.54" cy="514.79" r="1.35" fill="#2e3d9e" stroke="none" stroke-width="0.6"/>
<circle cx="94.09" cy="515.48" r="1.35" fill="#2e3d9e" stroke="none" stroke-width="0.6"/>
<circle cx="94.38" cy="486.96" r="1.35" fill="#2e3d9e" stroke="none" stroke-width="0.6"/>
<circle cx="95.02" cy="496.70" r="1.35" fill="#2e3d9e" stroke="none" stroke-width="0.6"/>
<rect x="99.10" y="471.56" width="4.50" height="81.04" fill="#d4d4d4" stroke="#444" stroke-width="0.6"/>
<line x1="101.35" y1="441.75" x2="101.35" y2="501.37" stroke="#444" stroke-width="0.6"/>
<line x1="99.75" y1="441.75" x2="102.95" y2="441.75" stroke="#444" stroke-width="0.6"/>
<rect x="100.91" y="490.84" width="2.0" height="2.0" fill="#fff" stroke="#222" stroke-width="0.5"/>
<rect x="100.69" y="494.76" width="2.0" height="2.0" fill="#fff" stroke="#222" stroke-width="0.5"/>
<rect x="100.16" y="495.71" width="2.0" height="2.0" fill="#fff" stroke="#222" stroke-width="0.5"/>
<rect x="99.80" y="489.39" width="2.0" height="2.0" fill="#fff" stroke="#222" stroke-width="0.5"/>
<rect x="101.08" y="439.68" width="2.0" height="2.0" fill="#fff" stroke="#222" stroke-width="0.5"/>
<rect x="101.27" y="483.40" width="2.0" height="2.0" fill="#fff" stroke="#222" stroke-width="0.5"/>
<rect x="105.30" y="473.42" width="4.50" height="79.18" fill="#c6dbf0" stroke="#444" stroke-width="0.6"/>
<line x1="107.55" y1="445.48" x2="107.55" y2="501.37" stroke="#444" stroke-width="0.6"/>
<line x1="105.95" y1="445.48" x2="109.15" y2="445.48" stroke="#444" stroke-width="0.6"/>
<rect x="106.30" y="490.21" width="2.0" height="2.0" fill="#fff" stroke="#111" stroke-width="0.5"/>
<rect x="106.30" y="490.21" width="1" height="2" fill="#111"/>
<rect x="106.89" y="450.64" width="2.0" height="2.0" fill="#fff" stroke="#111" stroke-width="0.5"/>
<rect x="106.89" y="450.64" width="1" height="2" fill="#111"/>
<rect x="107.72" y="496.99" width="2.0" height="2.0" fill="#fff" stroke="#111" stroke-width="0.5"/>
<rect x="107.72" y="496.99" width="1" height="2" fill="#111"/>
<rect x="105.97" y="490.05" width="2.0" height="2.0" fill="#fff" stroke="#111" stroke-width="0.5"/>
<rect x="105.97" y="490.05" width="1" height="2" fill="#111"/>
<rect x="106.14" y="455.66" width="2.0" height="2.0" fill="#fff" stroke="#111" stroke-width="0.5"/>
<rect x="106.14" y="455.66" width="1" height="2" fill="#111"/>
<rect x="105.53" y="484.94" width="2.0" height="2.0" fill="#fff" stroke="#111" stroke-width="0.5"/>
<rect x="105.53" y="484.94" width="1" height="2" fill="#111"/>
<rect x="115.50" y="532.48" width="4.50" height="20.12" fill="#fff" stroke="#444" stroke-width="0.6"/>
<line x1="117.75" y1="528.75" x2="117.75" y2="536.21" stroke="#444" stroke-width="0.6"/>
<line x1="116.15" y1="528.75" x2="119.35" y2="528.75" stroke="#444" stroke-width="0.6"/>
<circle cx="117.95" cy="535.84" r="1.3" fill="#111" stroke="none" stroke-width="0.6"/>
<circle cx="117.99" cy="534.59" r="1.3" fill="#111" stroke="none" stroke-width="0.6"/>
<circle cx="117.64" cy="533.53" r="1.3" fill="#111" stroke="none" stroke-width="0.6"/>
<circle cx="117.71" cy="528.72" r="1.3" fill="#111" stroke="none" stroke-width="0.6"/>
<circle cx="118.63" cy="531.87" r="1.3" fill="#111" stroke="none" stroke-width="0.6"/>
<circle cx="116.92" cy="535.08" r="1.3" fill="#111" stroke="none" stroke-width="0.6"/>
<rect x="122.10" y="530.24" width="4.50" height="22.36" fill="#5b8dcb" stroke="#444" stroke-width="0.6"/>
<line x1="124.35" y1="524.65" x2="124.35" y2="535.83" stroke="#2e3d9e" stroke-width="0.6"/>
<line x1="122.75" y1="524.65" x2="125.95" y2="524.65" stroke="#2e3d9e" stroke-width="0.6"/>
<circle cx="125.11" cy="525.22" r="1.35" fill="#2e3d9e" stroke="none" stroke-width="0.6"/>
<circle cx="123.61" cy="533.32" r="1.35" fill="#2e3d9e" stroke="none" stroke-width="0.6"/>
<circle cx="125.41" cy="527.30" r="1.35" fill="#2e3d9e" stroke="none" stroke-width="0.6"/>
<circle cx="125.43" cy="533.97" r="1.35" fill="#2e3d9e" stroke="none" stroke-width="0.6"/>
<circle cx="124.60" cy="525.54" r="1.35" fill="#2e3d9e" stroke="none" stroke-width="0.6"/>
<circle cx="123.40" cy="531.21" r="1.35" fill="#2e3d9e" stroke="none" stroke-width="0.6"/>
<rect x="128.30" y="525.59" width="4.50" height="27.01" fill="#d4d4d4" stroke="#444" stroke-width="0.6"/>
<line x1="130.55" y1="521.86" x2="130.55" y2="529.31" stroke="#444" stroke-width="0.6"/>
<line x1="128.95" y1="521.86" x2="132.15" y2="521.86" stroke="#444" stroke-width="0.6"/>
<rect x="130.66" y="528.37" width="2.0" height="2.0" fill="#fff" stroke="#222" stroke-width="0.5"/>
<rect x="130.04" y="526.73" width="2.0" height="2.0" fill="#fff" stroke="#222" stroke-width="0.5"/>
<rect x="130.33" y="526.58" width="2.0" height="2.0" fill="#fff" stroke="#222" stroke-width="0.5"/>
<rect x="129.05" y="523.80" width="2.0" height="2.0" fill="#fff" stroke="#222" stroke-width="0.5"/>
<rect x="130.08" y="527.25" width="2.0" height="2.0" fill="#fff" stroke="#222" stroke-width="0.5"/>
<rect x="128.90" y="528.12" width="2.0" height="2.0" fill="#fff" stroke="#222" stroke-width="0.5"/>
<rect x="134.50" y="525.59" width="4.50" height="27.01" fill="#c6dbf0" stroke="#444" stroke-width="0.6"/>
<line x1="136.75" y1="520.00" x2="136.75" y2="531.18" stroke="#444" stroke-width="0.6"/>
<line x1="135.15" y1="520.00" x2="138.35" y2="520.00" stroke="#444" stroke-width="0.6"/>
<rect x="136.60" y="523.86" width="2.0" height="2.0" fill="#fff" stroke="#111" stroke-width="0.5"/>
<rect x="136.60" y="523.86" width="1" height="2" fill="#111"/>
<rect x="135.22" y="523.18" width="2.0" height="2.0" fill="#fff" stroke="#111" stroke-width="0.5"/>
<rect x="135.22" y="523.18" width="1" height="2" fill="#111"/>
<rect x="135.04" y="519.45" width="2.0" height="2.0" fill="#fff" stroke="#111" stroke-width="0.5"/>
<rect x="135.04" y="519.45" width="1" height="2" fill="#111"/>
<rect x="135.20" y="530.53" width="2.0" height="2.0" fill="#fff" stroke="#111" stroke-width="0.5"/>
<rect x="135.20" y="530.53" width="1" height="2" fill="#111"/>
<rect x="134.70" y="525.25" width="2.0" height="2.0" fill="#fff" stroke="#111" stroke-width="0.5"/>
<rect x="134.70" y="525.25" width="1" height="2" fill="#111"/>
<rect x="135.44" y="528.57" width="2.0" height="2.0" fill="#fff" stroke="#111" stroke-width="0.5"/>
<rect x="135.44" y="528.57" width="1" height="2" fill="#111"/>
<rect x="144.70" y="534.34" width="4.50" height="18.26" fill="#fff" stroke="#444" stroke-width="0.6"/>
<line x1="146.95" y1="529.69" x2="146.95" y2="539.00" stroke="#444" stroke-width="0.6"/>
<line x1="145.35" y1="529.69" x2="148.55" y2="529.69" stroke="#444" stroke-width="0.6"/>
<circle cx="146.07" cy="533.60" r="1.3" fill="#111" stroke="none" stroke-width="0.6"/>
<circle cx="147.89" cy="535.76" r="1.3" fill="#111" stroke="none" stroke-width="0.6"/>
<circle cx="147.33" cy="529.42" r="1.3" fill="#111" stroke="none" stroke-width="0.6"/>
<circle cx="147.15" cy="532.38" r="1.3" fill="#111" stroke="none" stroke-width="0.6"/>
<circle cx="145.83" cy="538.03" r="1.3" fill="#111" stroke="none" stroke-width="0.6"/>
<circle cx="147.93" cy="539.28" r="1.3" fill="#111" stroke="none" stroke-width="0.6"/>
<rect x="151.30" y="516.27" width="4.50" height="36.33" fill="#5b8dcb" stroke="#444" stroke-width="0.6"/>
<line x1="153.55" y1="503.23" x2="153.55" y2="529.31" stroke="#2e3d9e" stroke-width="0.6"/>
<line x1="151.95" y1="503.23" x2="155.15" y2="503.23" stroke="#2e3d9e" stroke-width="0.6"/>
<circle cx="154.66" cy="510.51" r="1.35" fill="#2e3d9e" stroke="none" stroke-width="0.6"/>
<circle cx="153.88" cy="530.01" r="1.35" fill="#2e3d9e" stroke="none" stroke-width="0.6"/>
<circle cx="154.10" cy="516.78" r="1.35" fill="#2e3d9e" stroke="none" stroke-width="0.6"/>
<circle cx="154.75" cy="521.47" r="1.35" fill="#2e3d9e" stroke="none" stroke-width="0.6"/>
<circle cx="153.66" cy="528.46" r="1.35" fill="#2e3d9e" stroke="none" stroke-width="0.6"/>
<circle cx="154.51" cy="509.47" r="1.35" fill="#2e3d9e" stroke="none" stroke-width="0.6"/>
<rect x="157.50" y="500.99" width="4.50" height="51.61" fill="#d4d4d4" stroke="#444" stroke-width="0.6"/>
<line x1="159.75" y1="484.23" x2="159.75" y2="517.76" stroke="#444" stroke-width="0.6"/>
<line x1="158.15" y1="484.23" x2="161.35" y2="484.23" stroke="#444" stroke-width="0.6"/>
<rect x="159.24" y="491.25" width="2.0" height="2.0" fill="#fff" stroke="#222" stroke-width="0.5"/>
<rect x="159.75" y="489.18" width="2.0" height="2.0" fill="#fff" stroke="#222" stroke-width="0.5"/>
<rect x="159.19" y="505.46" width="2.0" height="2.0" fill="#fff" stroke="#222" stroke-width="0.5"/>
<rect x="159.64" y="485.21" width="2.0" height="2.0" fill="#fff" stroke="#222" stroke-width="0.5"/>
<rect x="159.45" y="503.05" width="2.0" height="2.0" fill="#fff" stroke="#222" stroke-width="0.5"/>
<rect x="158.92" y="486.59" width="2.0" height="2.0" fill="#fff" stroke="#222" stroke-width="0.5"/>
<rect x="163.70" y="507.33" width="4.50" height="45.27" fill="#c6dbf0" stroke="#444" stroke-width="0.6"/>
<line x1="165.95" y1="498.01" x2="165.95" y2="516.64" stroke="#444" stroke-width="0.6"/>
<line x1="164.35" y1="498.01" x2="167.55" y2="498.01" stroke="#444" stroke-width="0.6"/>
<rect x="164.67" y="503.77" width="2.0" height="2.0" fill="#fff" stroke="#111" stroke-width="0.5"/>
<rect x="164.67" y="503.77" width="1" height="2" fill="#111"/>
<rect x="165.21" y="504.63" width="2.0" height="2.0" fill="#fff" stroke="#111" stroke-width="0.5"/>
<rect x="165.21" y="504.63" width="1" height="2" fill="#111"/>
<rect x="165.28" y="514.93" width="2.0" height="2.0" fill="#fff" stroke="#111" stroke-width="0.5"/>
<rect x="165.28" y="514.93" width="1" height="2" fill="#111"/>
<rect x="165.86" y="496.22" width="2.0" height="2.0" fill="#fff" stroke="#111" stroke-width="0.5"/>
<rect x="165.86" y="496.22" width="1" height="2" fill="#111"/>
<rect x="164.68" y="501.65" width="2.0" height="2.0" fill="#fff" stroke="#111" stroke-width="0.5"/>
<rect x="164.68" y="501.65" width="1" height="2" fill="#111"/>
<rect x="165.14" y="501.51" width="2.0" height="2.0" fill="#fff" stroke="#111" stroke-width="0.5"/>
<rect x="165.14" y="501.51" width="1" height="2" fill="#111"/>
<rect x="173.90" y="533.97" width="4.50" height="18.63" fill="#fff" stroke="#444" stroke-width="0.6"/>
<line x1="176.15" y1="528.38" x2="176.15" y2="539.56" stroke="#444" stroke-width="0.6"/>
<line x1="174.55" y1="528.38" x2="177.75" y2="528.38" stroke="#444" stroke-width="0.6"/>
<circle cx="176.96" cy="534.70" r="1.3" fill="#111" stroke="none" stroke-width="0.6"/>
<circle cx="176.75" cy="539.09" r="1.3" fill="#111" stroke="none" stroke-width="0.6"/>
<circle cx="176.39" cy="539.75" r="1.3" fill="#111" stroke="none" stroke-width="0.6"/>
<circle cx="175.50" cy="534.20" r="1.3" fill="#111" stroke="none" stroke-width="0.6"/>
<circle cx="176.14" cy="531.53" r="1.3" fill="#111" stroke="none" stroke-width="0.6"/>
<circle cx="177.16" cy="532.56" r="1.3" fill="#111" stroke="none" stroke-width="0.6"/>
<rect x="180.50" y="533.04" width="4.50" height="19.56" fill="#5b8dcb" stroke="#444" stroke-width="0.6"/>
<line x1="182.75" y1="527.45" x2="182.75" y2="538.63" stroke="#2e3d9e" stroke-width="0.6"/>
<line x1="181.15" y1="527.45" x2="184.35" y2="527.45" stroke="#2e3d9e" stroke-width="0.6"/>
<circle cx="181.58" cy="536.04" r="1.35" fill="#2e3d9e" stroke="none" stroke-width="0.6"/>
<circle cx="183.18" cy="535.48" r="1.35" fill="#2e3d9e" stroke="none" stroke-width="0.6"/>
<circle cx="181.96" cy="536.70" r="1.35" fill="#2e3d9e" stroke="none" stroke-width="0.6"/>
<circle cx="183.13" cy="528.05" r="1.35" fill="#2e3d9e" stroke="none" stroke-width="0.6"/>
<circle cx="183.69" cy="533.75" r="1.35" fill="#2e3d9e" stroke="none" stroke-width="0.6"/>
<circle cx="183.15" cy="535.17" r="1.35" fill="#2e3d9e" stroke="none" stroke-width="0.6"/>
<rect x="186.70" y="530.24" width="4.50" height="22.36" fill="#d4d4d4" stroke="#444" stroke-width="0.6"/>
<line x1="188.95" y1="525.59" x2="188.95" y2="534.90" stroke="#444" stroke-width="0.6"/>
<line x1="187.35" y1="525.59" x2="190.55" y2="525.59" stroke="#444" stroke-width="0.6"/>
<rect x="187.78" y="532.33" width="2.0" height="2.0" fill="#fff" stroke="#222" stroke-width="0.5"/>
<rect x="188.94" y="526.11" width="2.0" height="2.0" fill="#fff" stroke="#222" stroke-width="0.5"/>
<rect x="187.67" y="525.35" width="2.0" height="2.0" fill="#fff" stroke="#222" stroke-width="0.5"/>
<rect x="187.51" y="528.39" width="2.0" height="2.0" fill="#fff" stroke="#222" stroke-width="0.5"/>
<rect x="187.94" y="532.97" width="2.0" height="2.0" fill="#fff" stroke="#222" stroke-width="0.5"/>
<rect x="188.79" y="525.79" width="2.0" height="2.0" fill="#fff" stroke="#222" stroke-width="0.5"/>
<rect x="192.90" y="534.90" width="4.50" height="17.70" fill="#c6dbf0" stroke="#444" stroke-width="0.6"/>
<line x1="195.15" y1="531.18" x2="195.15" y2="538.63" stroke="#444" stroke-width="0.6"/>
<line x1="193.55" y1="531.18" x2="196.75" y2="531.18" stroke="#444" stroke-width="0.6"/>
<rect x="195.23" y="532.17" width="2.0" height="2.0" fill="#fff" stroke="#111" stroke-width="0.5"/>
<rect x="195.23" y="532.17" width="1" height="2" fill="#111"/>
<rect x="193.36" y="535.73" width="2.0" height="2.0" fill="#fff" stroke="#111" stroke-width="0.5"/>
<rect x="193.36" y="535.73" width="1" height="2" fill="#111"/>
<rect x="193.61" y="534.31" width="2.0" height="2.0" fill="#fff" stroke="#111" stroke-width="0.5"/>
<rect x="193.61" y="534.31" width="1" height="2" fill="#111"/>
<rect x="193.94" y="536.25" width="2.0" height="2.0" fill="#fff" stroke="#111" stroke-width="0.5"/>
<rect x="193.94" y="536.25" width="1" height="2" fill="#111"/>
<rect x="194.14" y="532.87" width="2.0" height="2.0" fill="#fff" stroke="#111" stroke-width="0.5"/>
<rect x="194.14" y="532.87" width="1" height="2" fill="#111"/>
<rect x="194.96" y="535.41" width="2.0" height="2.0" fill="#fff" stroke="#111" stroke-width="0.5"/>
<rect x="194.96" y="535.41" width="1" height="2" fill="#111"/>
<rect x="203.10" y="533.97" width="4.50" height="18.63" fill="#fff" stroke="#444" stroke-width="0.6"/>
<line x1="205.35" y1="530.24" x2="205.35" y2="537.70" stroke="#444" stroke-width="0.6"/>
<line x1="203.75" y1="530.24" x2="206.95" y2="530.24" stroke="#444" stroke-width="0.6"/>
<circle cx="205.24" cy="530.02" r="1.3" fill="#111" stroke="none" stroke-width="0.6"/>
<circle cx="204.23" cy="537.46" r="1.3" fill="#111" stroke="none" stroke-width="0.6"/>
<circle cx="204.25" cy="530.91" r="1.3" fill="#111" stroke="none" stroke-width="0.6"/>
<circle cx="205.52" cy="532.26" r="1.3" fill="#111" stroke="none" stroke-width="0.6"/>
<circle cx="206.05" cy="535.54" r="1.3" fill="#111" stroke="none" stroke-width="0.6"/>
<circle cx="204.48" cy="537.91" r="1.3" fill="#111" stroke="none" stroke-width="0.6"/>
<rect x="209.70" y="528.38" width="4.50" height="24.22" fill="#5b8dcb" stroke="#444" stroke-width="0.6"/>
<line x1="211.95" y1="524.65" x2="211.95" y2="532.11" stroke="#2e3d9e" stroke-width="0.6"/>
<line x1="210.35" y1="524.65" x2="213.55" y2="524.65" stroke="#2e3d9e" stroke-width="0.6"/>
<circle cx="210.81" cy="528.75" r="1.35" fill="#2e3d9e" stroke="none" stroke-width="0.6"/>
<circle cx="211.32" cy="525.68" r="1.35" fill="#2e3d9e" stroke="none" stroke-width="0.6"/>
<circle cx="210.86" cy="531.32" r="1.35" fill="#2e3d9e" stroke="none" stroke-width="0.6"/>
<circle cx="211.82" cy="527.32" r="1.35" fill="#2e3d9e" stroke="none" stroke-width="0.6"/>
<circle cx="212.32" cy="527.32" r="1.35" fill="#2e3d9e" stroke="none" stroke-width="0.6"/>
<circle cx="213.05" cy="525.86" r="1.35" fill="#2e3d9e" stroke="none" stroke-width="0.6"/>
<rect x="215.90" y="528.38" width="4.50" height="24.22" fill="#d4d4d4" stroke="#444" stroke-width="0.6"/>
<line x1="218.15" y1="524.65" x2="218.15" y2="532.11" stroke="#444" stroke-width="0.6"/>
<line x1="216.55" y1="524.65" x2="219.75" y2="524.65" stroke="#444" stroke-width="0.6"/>
<rect x="216.43" y="525.87" width="2.0" height="2.0" fill="#fff" stroke="#222" stroke-width="0.5"/>
<rect x="216.38" y="527.58" width="2.0" height="2.0" fill="#fff" stroke="#222" stroke-width="0.5"/>
<rect x="217.08" y="531.39" width="2.0" height="2.0" fill="#fff" stroke="#222" stroke-width="0.5"/>
<rect x="216.38" y="525.63" width="2.0" height="2.0" fill="#fff" stroke="#222" stroke-width="0.5"/>
<rect x="216.78" y="529.25" width="2.0" height="2.0" fill="#fff" stroke="#222" stroke-width="0.5"/>
<rect x="217.20" y="525.76" width="2.0" height="2.0" fill="#fff" stroke="#222" stroke-width="0.5"/>
<rect x="222.10" y="528.38" width="4.50" height="24.22" fill="#c6dbf0" stroke="#444" stroke-width="0.6"/>
<line x1="224.35" y1="524.65" x2="224.35" y2="532.11" stroke="#444" stroke-width="0.6"/>
<line x1="222.75" y1="524.65" x2="225.95" y2="524.65" stroke="#444" stroke-width="0.6"/>
<rect x="223.96" y="526.44" width="2.0" height="2.0" fill="#fff" stroke="#111" stroke-width="0.5"/>
<rect x="223.96" y="526.44" width="1" height="2" fill="#111"/>
<rect x="224.05" y="528.25" width="2.0" height="2.0" fill="#fff" stroke="#111" stroke-width="0.5"/>
<rect x="224.05" y="528.25" width="1" height="2" fill="#111"/>
<rect x="222.36" y="524.05" width="2.0" height="2.0" fill="#fff" stroke="#111" stroke-width="0.5"/>
<rect x="222.36" y="524.05" width="1" height="2" fill="#111"/>
<rect x="223.88" y="523.83" width="2.0" height="2.0" fill="#fff" stroke="#111" stroke-width="0.5"/>
<rect x="223.88" y="523.83" width="1" height="2" fill="#111"/>
<rect x="223.24" y="530.41" width="2.0" height="2.0" fill="#fff" stroke="#111" stroke-width="0.5"/>
<rect x="223.24" y="530.41" width="1" height="2" fill="#111"/>
<rect x="224.33" y="526.35" width="2.0" height="2.0" fill="#fff" stroke="#111" stroke-width="0.5"/>
<rect x="224.33" y="526.35" width="1" height="2" fill="#111"/>
<circle cx="94.80" cy="471.60" r="1.2" fill="#2e3d9e" stroke="none" stroke-width="0.6"/>
<circle cx="94.80" cy="479.20" r="1.2" fill="#2e3d9e" stroke="none" stroke-width="0.6"/>
<circle cx="94.80" cy="487.30" r="1.2" fill="#2e3d9e" stroke="none" stroke-width="0.6"/>
<circle cx="152.90" cy="502.00" r="1.2" fill="#2e3d9e" stroke="none" stroke-width="0.6"/>
<circle cx="125.10" cy="528.00" r="1.2" fill="#2e3d9e" stroke="none" stroke-width="0.6"/>
<rect x="100.20" y="435.50" width="2.0" height="2.0" fill="#fff" stroke="#222" stroke-width="0.5"/>
<rect x="100.20" y="447.00" width="2.0" height="2.0" fill="#fff" stroke="#222" stroke-width="0.5"/>
<rect x="106.50" y="445.00" width="2.0" height="2.0" fill="#fff" stroke="#222" stroke-width="0.5"/>
<rect x="106.50" y="454.00" width="2.0" height="2.0" fill="#fff" stroke="#222" stroke-width="0.5"/>
<rect x="106.50" y="463.00" width="2.0" height="2.0" fill="#fff" stroke="#222" stroke-width="0.5"/>
<rect x="159.00" y="470.00" width="2.0" height="2.0" fill="#fff" stroke="#222" stroke-width="0.5"/>
<rect x="165.00" y="489.00" width="2.0" height="2.0" fill="#fff" stroke="#222" stroke-width="0.5"/>
<text x="0.00" y="0.00" font-size="6.0" font-weight="bold" fill="#2e3d9e" transform="translate(95.60,459.80) rotate(-90)">0.0032</text>
<text x="0.00" y="0.00" font-size="6.0" fill="#555" transform="translate(102.70,432.80) rotate(-90)">&lt;0.0001</text>
<text x="0.00" y="0.00" font-size="6.0" fill="#6f9edb" transform="translate(109.90,429.50) rotate(-90)">0.0004</text>
<text x="0.00" y="0.00" font-size="6.0" fill="#555" transform="translate(132.20,469.90) rotate(-90)">0.0012</text>
<text x="0.00" y="0.00" font-size="6.0" fill="#6f9edb" transform="translate(139.90,469.90) rotate(-90)">0.0153</text>
<text x="0.00" y="0.00" font-size="6.0" font-weight="bold" fill="#2e3d9e" transform="translate(154.30,447.20) rotate(-90)">0.0346</text>
<text x="0.00" y="0.00" font-size="6.0" fill="#555" transform="translate(162.20,447.20) rotate(-90)">0.0012</text>
<text x="0.00" y="0.00" font-size="6.0" fill="#6f9edb" transform="translate(169.80,447.20) rotate(-90)">0.0003</text>
<text x="0.00" y="0.00" font-size="6.0" fill="#6f9edb" transform="translate(227.60,509.50) rotate(-90)">0.0612</text>
<polygon points="128.27,493.94 128.97,495.37 130.55,495.60 129.41,496.71 129.68,498.28 128.27,497.54 126.86,498.28 127.12,496.71 125.98,495.60 127.56,495.37" fill="#999"/>
<polygon points="132.93,493.94 133.64,495.37 135.22,495.60 134.08,496.71 134.34,498.28 132.93,497.54 131.52,498.28 131.79,496.71 130.65,495.60 132.23,495.37" fill="#999"/>
<polygon points="137.00,482.14 137.71,483.57 139.28,483.80 138.14,484.91 138.41,486.48 137.00,485.74 135.59,486.48 135.86,484.91 134.72,483.80 136.29,483.57" fill="#6f9edb"/>
<polygon points="156.07,454.24 156.77,455.67 158.35,455.90 157.21,457.01 157.48,458.58 156.07,457.84 154.66,458.58 154.92,457.01 153.78,455.90 155.36,455.67" fill="#999"/>
<polygon points="160.73,454.24 161.44,455.67 163.02,455.90 161.88,457.01 162.14,458.58 160.73,457.84 159.32,458.58 159.59,457.01 158.45,455.90 160.03,455.67" fill="#999"/>
<polygon points="152.50,462.24 153.21,463.67 154.78,463.90 153.64,465.01 153.91,466.58 152.50,465.84 151.09,466.58 151.36,465.01 150.22,463.90 151.79,463.67" fill="#2e3d9e"/>
<polygon points="163.93,462.24 164.64,463.67 166.21,463.90 165.07,465.01 165.34,466.58 163.93,465.84 162.52,466.58 162.79,465.01 161.65,463.90 163.23,463.67" fill="#6f9edb"/>
<polygon points="168.60,462.24 169.31,463.67 170.88,463.90 169.74,465.01 170.01,466.58 168.60,465.84 167.19,466.58 167.46,465.01 166.32,463.90 167.89,463.67" fill="#6f9edb"/>
<polygon points="173.27,462.24 173.97,463.67 175.55,463.90 174.41,465.01 174.68,466.58 173.27,465.84 171.86,466.58 172.13,465.01 170.99,463.90 172.56,463.67" fill="#6f9edb"/>
<rect x="191.00" y="439.10" width="11.70" height="6.60" fill="#fff" stroke="#444" stroke-width="0.7"/>
<text x="210.20" y="445.70" font-size="9.4" fill="#222">DMSO</text>
<rect x="191.00" y="450.30" width="11.70" height="6.60" fill="#5b8dcb" stroke="#444" stroke-width="0.7"/>
<text x="210.20" y="456.90" font-size="9.4" fill="#222">Wy-14643</text>
<rect x="191.00" y="461.50" width="11.70" height="6.60" fill="#d4d4d4" stroke="#444" stroke-width="0.7"/>
<text x="210.20" y="468.10" font-size="9.4" fill="#222">Etomoxir</text>
<rect x="191.00" y="472.70" width="11.70" height="6.60" fill="#c6dbf0" stroke="#444" stroke-width="0.7"/>
<text x="210.20" y="479.30" font-size="9.4" fill="#222">Wy+Eto</text>
<text x="0.00" y="0.00" font-size="12.5" transform="translate(37.40,573.80) rotate(-90)">Relative gene expresssion</text>
<text x="0.00" y="0.00" font-size="9.68" text-anchor="end" font-style="italic" transform="translate(71.57,564.57) rotate(-45)">PPARA</text>
<text x="0.00" y="0.00" font-size="9.49" text-anchor="end" font-style="italic" transform="translate(100.09,564.21) rotate(-45)">ACOX1</text>
<text x="0.00" y="0.00" font-size="9.28" text-anchor="end" font-style="italic" transform="translate(129.53,565.30) rotate(-45)">PDK4</text>
<text x="0.00" y="0.00" font-size="9.48" text-anchor="end" font-style="italic" transform="translate(159.33,564.15) rotate(-45)">PLIN2</text>
<text x="0.00" y="0.00" font-size="9.36" text-anchor="end" font-style="italic" transform="translate(187.52,563.74) rotate(-45)">SLC15A1</text>
<text x="0.00" y="0.00" font-size="9.68" text-anchor="end" font-style="italic" transform="translate(217.34,564.87) rotate(-45)">SLC27A4</text>
<text x="277.80" y="443.20" font-size="12.5" font-weight="bold" fill="#111">q</text>
<line x1="317.30" y1="456.50" x2="317.30" y2="557.10" stroke="#333" stroke-width="0.8"/>
<line x1="313.70" y1="557.10" x2="317.30" y2="557.10" stroke="#333" stroke-width="0.8"/>
<text x="313.10" y="559.94" font-size="7.9" text-anchor="end" fill="#333">0.0</text>
<line x1="313.70" y1="531.95" x2="317.30" y2="531.95" stroke="#333" stroke-width="0.8"/>
<text x="313.10" y="534.79" font-size="7.9" text-anchor="end" fill="#333">0.5</text>
<line x1="313.70" y1="506.80" x2="317.30" y2="506.80" stroke="#333" stroke-width="0.8"/>
<text x="313.10" y="509.64" font-size="7.9" text-anchor="end" fill="#333">1.0</text>
<line x1="313.70" y1="481.65" x2="317.30" y2="481.65" stroke="#333" stroke-width="0.8"/>
<text x="313.10" y="484.49" font-size="7.9" text-anchor="end" fill="#333">1.5</text>
<line x1="313.70" y1="456.50" x2="317.30" y2="456.50" stroke="#333" stroke-width="0.8"/>
<text x="313.10" y="459.34" font-size="7.9" text-anchor="end" fill="#333">2.0</text>
<line x1="317.30" y1="557.10" x2="440.30" y2="557.10" stroke="#333" stroke-width="0.8"/>
<line x1="323.80" y1="557.10" x2="323.80" y2="560.10" stroke="#333" stroke-width="0.8"/>
<line x1="341.90" y1="557.10" x2="341.90" y2="560.10" stroke="#333" stroke-width="0.8"/>
<line x1="360.00" y1="557.10" x2="360.00" y2="560.10" stroke="#333" stroke-width="0.8"/>
<line x1="378.10" y1="557.10" x2="378.10" y2="560.10" stroke="#333" stroke-width="0.8"/>
<line x1="396.20" y1="557.10" x2="396.20" y2="560.10" stroke="#333" stroke-width="0.8"/>
<line x1="414.30" y1="557.10" x2="414.30" y2="560.10" stroke="#333" stroke-width="0.8"/>
<line x1="432.40" y1="557.10" x2="432.40" y2="560.10" stroke="#333" stroke-width="0.8"/>
<rect x="319.50" y="506.80" width="4.60" height="50.30" fill="#707070" stroke="#333" stroke-width="0.7"/>
<rect x="326.20" y="514.35" width="4.60" height="42.75" fill="#fff" stroke="#333" stroke-width="0.7"/>
<line x1="321.80" y1="496.74" x2="321.80" y2="516.86" stroke="#333" stroke-width="0.6"/>
<line x1="320.20" y1="496.74" x2="323.40" y2="496.74" stroke="#333" stroke-width="0.6"/>
<line x1="328.50" y1="509.32" x2="328.50" y2="519.38" stroke="#555" stroke-width="0.6"/>
<line x1="326.90" y1="509.32" x2="330.10" y2="509.32" stroke="#555" stroke-width="0.6"/>
<circle cx="321.40" cy="501.84" r="1.5" fill="#111" stroke="none" stroke-width="0.6"/>
<circle cx="321.96" cy="507.35" r="1.5" fill="#111" stroke="none" stroke-width="0.6"/>
<circle cx="321.46" cy="499.15" r="1.5" fill="#111" stroke="none" stroke-width="0.6"/>
<circle cx="322.17" cy="506.47" r="1.5" fill="#111" stroke="none" stroke-width="0.6"/>
<circle cx="321.81" cy="513.70" r="1.5" fill="#111" stroke="none" stroke-width="0.6"/>
<circle cx="321.20" cy="510.17" r="1.5" fill="#111" stroke="none" stroke-width="0.6"/>
<rect x="327.29" y="518.68" width="2.6" height="2.6" fill="#fff" stroke="#222" stroke-width="0.6"/>
<rect x="327.49" y="516.55" width="2.6" height="2.6" fill="#fff" stroke="#222" stroke-width="0.6"/>
<rect x="326.93" y="519.03" width="2.6" height="2.6" fill="#fff" stroke="#222" stroke-width="0.6"/>
<rect x="327.70" y="509.92" width="2.6" height="2.6" fill="#fff" stroke="#222" stroke-width="0.6"/>
<rect x="327.58" y="511.53" width="2.6" height="2.6" fill="#fff" stroke="#222" stroke-width="0.6"/>
<rect x="326.73" y="515.28" width="2.6" height="2.6" fill="#fff" stroke="#222" stroke-width="0.6"/>
<rect x="337.60" y="506.80" width="4.60" height="50.30" fill="#707070" stroke="#333" stroke-width="0.7"/>
<rect x="344.30" y="545.03" width="4.60" height="12.07" fill="#fff" stroke="#333" stroke-width="0.7"/>
<line x1="339.90" y1="494.23" x2="339.90" y2="519.38" stroke="#333" stroke-width="0.6"/>
<line x1="338.30" y1="494.23" x2="341.50" y2="494.23" stroke="#333" stroke-width="0.6"/>
<line x1="346.60" y1="541.00" x2="346.60" y2="549.05" stroke="#555" stroke-width="0.6"/>
<line x1="345.00" y1="541.00" x2="348.20" y2="541.00" stroke="#555" stroke-width="0.6"/>
<circle cx="339.90" cy="519.36" r="1.5" fill="#111" stroke="none" stroke-width="0.6"/>
<circle cx="340.44" cy="511.10" r="1.5" fill="#111" stroke="none" stroke-width="0.6"/>
<circle cx="339.49" cy="496.42" r="1.5" fill="#111" stroke="none" stroke-width="0.6"/>
<circle cx="339.45" cy="492.81" r="1.5" fill="#111" stroke="none" stroke-width="0.6"/>
<circle cx="339.84" cy="505.10" r="1.5" fill="#111" stroke="none" stroke-width="0.6"/>
<circle cx="339.71" cy="507.30" r="1.5" fill="#111" stroke="none" stroke-width="0.6"/>
<rect x="344.99" y="548.57" width="2.6" height="2.6" fill="#fff" stroke="#222" stroke-width="0.6"/>
<rect x="345.67" y="546.50" width="2.6" height="2.6" fill="#fff" stroke="#222" stroke-width="0.6"/>
<rect x="345.58" y="546.78" width="2.6" height="2.6" fill="#fff" stroke="#222" stroke-width="0.6"/>
<rect x="345.77" y="539.61" width="2.6" height="2.6" fill="#fff" stroke="#222" stroke-width="0.6"/>
<rect x="345.55" y="540.98" width="2.6" height="2.6" fill="#fff" stroke="#222" stroke-width="0.6"/>
<rect x="345.38" y="541.32" width="2.6" height="2.6" fill="#fff" stroke="#222" stroke-width="0.6"/>
<rect x="355.70" y="506.80" width="4.60" height="50.30" fill="#707070" stroke="#333" stroke-width="0.7"/>
<rect x="362.40" y="513.84" width="4.60" height="43.26" fill="#fff" stroke="#333" stroke-width="0.7"/>
<line x1="358.00" y1="499.26" x2="358.00" y2="514.35" stroke="#333" stroke-width="0.6"/>
<line x1="356.40" y1="499.26" x2="359.60" y2="499.26" stroke="#333" stroke-width="0.6"/>
<line x1="364.70" y1="507.81" x2="364.70" y2="519.88" stroke="#555" stroke-width="0.6"/>
<line x1="363.10" y1="507.81" x2="366.30" y2="507.81" stroke="#555" stroke-width="0.6"/>
<circle cx="357.55" cy="507.26" r="1.5" fill="#111" stroke="none" stroke-width="0.6"/>
<circle cx="358.39" cy="512.66" r="1.5" fill="#111" stroke="none" stroke-width="0.6"/>
<circle cx="358.51" cy="499.20" r="1.5" fill="#111" stroke="none" stroke-width="0.6"/>
<circle cx="357.89" cy="509.44" r="1.5" fill="#111" stroke="none" stroke-width="0.6"/>
<circle cx="357.94" cy="509.04" r="1.5" fill="#111" stroke="none" stroke-width="0.6"/>
<circle cx="358.59" cy="509.02" r="1.5" fill="#111" stroke="none" stroke-width="0.6"/>
<rect x="362.93" y="518.93" width="2.6" height="2.6" fill="#fff" stroke="#222" stroke-width="0.6"/>
<rect x="363.62" y="504.81" width="2.6" height="2.6" fill="#fff" stroke="#222" stroke-width="0.6"/>
<rect x="363.40" y="512.67" width="2.6" height="2.6" fill="#fff" stroke="#222" stroke-width="0.6"/>
<rect x="363.45" y="508.65" width="2.6" height="2.6" fill="#fff" stroke="#222" stroke-width="0.6"/>
<rect x="363.12" y="510.83" width="2.6" height="2.6" fill="#fff" stroke="#222" stroke-width="0.6"/>
<rect x="363.46" y="510.62" width="2.6" height="2.6" fill="#fff" stroke="#222" stroke-width="0.6"/>
<rect x="373.80" y="506.80" width="4.60" height="50.30" fill="#707070" stroke="#333" stroke-width="0.7"/>
<rect x="380.50" y="527.93" width="4.60" height="29.17" fill="#fff" stroke="#333" stroke-width="0.7"/>
<line x1="376.10" y1="490.20" x2="376.10" y2="523.40" stroke="#333" stroke-width="0.6"/>
<line x1="374.50" y1="490.20" x2="377.70" y2="490.20" stroke="#333" stroke-width="0.6"/>
<line x1="382.80" y1="521.89" x2="382.80" y2="533.96" stroke="#555" stroke-width="0.6"/>
<line x1="381.20" y1="521.89" x2="384.40" y2="521.89" stroke="#555" stroke-width="0.6"/>
<circle cx="375.72" cy="521.04" r="1.5" fill="#111" stroke="none" stroke-width="0.6"/>
<circle cx="375.92" cy="488.37" r="1.5" fill="#111" stroke="none" stroke-width="0.6"/>
<circle cx="375.92" cy="502.60" r="1.5" fill="#111" stroke="none" stroke-width="0.6"/>
<circle cx="375.87" cy="523.92" r="1.5" fill="#111" stroke="none" stroke-width="0.6"/>
<circle cx="375.58" cy="493.26" r="1.5" fill="#111" stroke="none" stroke-width="0.6"/>
<circle cx="376.43" cy="512.20" r="1.5" fill="#111" stroke="none" stroke-width="0.6"/>
<rect x="381.68" y="523.87" width="2.6" height="2.6" fill="#fff" stroke="#222" stroke-width="0.6"/>
<rect x="381.90" y="519.43" width="2.6" height="2.6" fill="#fff" stroke="#222" stroke-width="0.6"/>
<rect x="381.41" y="518.95" width="2.6" height="2.6" fill="#fff" stroke="#222" stroke-width="0.6"/>
<rect x="381.96" y="525.21" width="2.6" height="2.6" fill="#fff" stroke="#222" stroke-width="0.6"/>
<rect x="381.88" y="526.77" width="2.6" height="2.6" fill="#fff" stroke="#222" stroke-width="0.6"/>
<rect x="381.38" y="530.59" width="2.6" height="2.6" fill="#fff" stroke="#222" stroke-width="0.6"/>
<rect x="391.90" y="506.80" width="4.60" height="50.30" fill="#707070" stroke="#333" stroke-width="0.7"/>
<rect x="398.60" y="518.37" width="4.60" height="38.73" fill="#fff" stroke="#333" stroke-width="0.7"/>
<line x1="394.20" y1="496.74" x2="394.20" y2="516.86" stroke="#333" stroke-width="0.6"/>
<line x1="392.60" y1="496.74" x2="395.80" y2="496.74" stroke="#333" stroke-width="0.6"/>
<line x1="400.90" y1="508.31" x2="400.90" y2="528.43" stroke="#555" stroke-width="0.6"/>
<line x1="399.30" y1="508.31" x2="402.50" y2="508.31" stroke="#555" stroke-width="0.6"/>
<circle cx="394.65" cy="515.63" r="1.5" fill="#111" stroke="none" stroke-width="0.6"/>
<circle cx="393.68" cy="498.82" r="1.5" fill="#111" stroke="none" stroke-width="0.6"/>
<circle cx="394.53" cy="507.24" r="1.5" fill="#111" stroke="none" stroke-width="0.6"/>
<circle cx="394.60" cy="518.51" r="1.5" fill="#111" stroke="none" stroke-width="0.6"/>
<circle cx="393.91" cy="512.30" r="1.5" fill="#111" stroke="none" stroke-width="0.6"/>
<circle cx="394.10" cy="515.42" r="1.5" fill="#111" stroke="none" stroke-width="0.6"/>
<rect x="399.17" y="521.30" width="2.6" height="2.6" fill="#fff" stroke="#222" stroke-width="0.6"/>
<rect x="400.00" y="504.42" width="2.6" height="2.6" fill="#fff" stroke="#222" stroke-width="0.6"/>
<rect x="399.85" y="517.62" width="2.6" height="2.6" fill="#fff" stroke="#222" stroke-width="0.6"/>
<rect x="399.35" y="505.07" width="2.6" height="2.6" fill="#fff" stroke="#222" stroke-width="0.6"/>
<rect x="399.63" y="511.09" width="2.6" height="2.6" fill="#fff" stroke="#222" stroke-width="0.6"/>
<rect x="399.13" y="524.60" width="2.6" height="2.6" fill="#fff" stroke="#222" stroke-width="0.6"/>
<rect x="410.00" y="506.80" width="4.60" height="50.30" fill="#707070" stroke="#333" stroke-width="0.7"/>
<rect x="416.70" y="507.81" width="4.60" height="49.29" fill="#fff" stroke="#333" stroke-width="0.7"/>
<line x1="412.30" y1="494.23" x2="412.30" y2="519.38" stroke="#333" stroke-width="0.6"/>
<line x1="410.70" y1="494.23" x2="413.90" y2="494.23" stroke="#333" stroke-width="0.6"/>
<line x1="419.00" y1="492.72" x2="419.00" y2="522.90" stroke="#555" stroke-width="0.6"/>
<line x1="417.40" y1="492.72" x2="420.60" y2="492.72" stroke="#555" stroke-width="0.6"/>
<circle cx="412.71" cy="497.15" r="1.5" fill="#111" stroke="none" stroke-width="0.6"/>
<circle cx="412.76" cy="503.49" r="1.5" fill="#111" stroke="none" stroke-width="0.6"/>
<circle cx="412.21" cy="504.15" r="1.5" fill="#111" stroke="none" stroke-width="0.6"/>
<circle cx="412.72" cy="513.08" r="1.5" fill="#111" stroke="none" stroke-width="0.6"/>
<circle cx="412.34" cy="514.12" r="1.5" fill="#111" stroke="none" stroke-width="0.6"/>
<circle cx="412.62" cy="522.81" r="1.5" fill="#111" stroke="none" stroke-width="0.6"/>
<rect x="417.89" y="488.69" width="2.6" height="2.6" fill="#fff" stroke="#222" stroke-width="0.6"/>
<rect x="417.22" y="502.83" width="2.6" height="2.6" fill="#fff" stroke="#222" stroke-width="0.6"/>
<rect x="417.84" y="492.71" width="2.6" height="2.6" fill="#fff" stroke="#222" stroke-width="0.6"/>
<rect x="417.78" y="516.03" width="2.6" height="2.6" fill="#fff" stroke="#222" stroke-width="0.6"/>
<rect x="417.61" y="488.51" width="2.6" height="2.6" fill="#fff" stroke="#222" stroke-width="0.6"/>
<rect x="418.11" y="520.88" width="2.6" height="2.6" fill="#fff" stroke="#222" stroke-width="0.6"/>
<rect x="428.10" y="506.80" width="4.60" height="50.30" fill="#707070" stroke="#333" stroke-width="0.7"/>
<rect x="434.80" y="513.34" width="4.60" height="43.76" fill="#fff" stroke="#333" stroke-width="0.7"/>
<line x1="430.40" y1="499.26" x2="430.40" y2="514.35" stroke="#333" stroke-width="0.6"/>
<line x1="428.80" y1="499.26" x2="432.00" y2="499.26" stroke="#333" stroke-width="0.6"/>
<line x1="437.10" y1="504.29" x2="437.10" y2="522.39" stroke="#555" stroke-width="0.6"/>
<line x1="435.50" y1="504.29" x2="438.70" y2="504.29" stroke="#555" stroke-width="0.6"/>
<circle cx="429.91" cy="514.77" r="1.5" fill="#111" stroke="none" stroke-width="0.6"/>
<circle cx="429.83" cy="507.84" r="1.5" fill="#111" stroke="none" stroke-width="0.6"/>
<circle cx="429.97" cy="499.59" r="1.5" fill="#111" stroke="none" stroke-width="0.6"/>
<circle cx="430.59" cy="514.13" r="1.5" fill="#111" stroke="none" stroke-width="0.6"/>
<circle cx="430.45" cy="510.25" r="1.5" fill="#111" stroke="none" stroke-width="0.6"/>
<circle cx="430.39" cy="512.30" r="1.5" fill="#111" stroke="none" stroke-width="0.6"/>
<rect x="435.47" y="519.48" width="2.6" height="2.6" fill="#fff" stroke="#222" stroke-width="0.6"/>
<rect x="435.68" y="507.10" width="2.6" height="2.6" fill="#fff" stroke="#222" stroke-width="0.6"/>
<rect x="435.85" y="522.72" width="2.6" height="2.6" fill="#fff" stroke="#222" stroke-width="0.6"/>
<rect x="436.01" y="503.24" width="2.6" height="2.6" fill="#fff" stroke="#222" stroke-width="0.6"/>
<rect x="436.07" y="505.20" width="2.6" height="2.6" fill="#fff" stroke="#222" stroke-width="0.6"/>
<rect x="435.31" y="512.89" width="2.6" height="2.6" fill="#fff" stroke="#222" stroke-width="0.6"/>
<circle cx="375.80" cy="475.50" r="1.4" fill="#111" stroke="none" stroke-width="0.6"/>
<rect x="416.80" y="485.80" width="2.4" height="2.4" fill="#fff" stroke="#222" stroke-width="0.6"/>
<rect x="416.80" y="494.60" width="2.4" height="2.4" fill="#fff" stroke="#222" stroke-width="0.6"/>
<rect x="416.80" y="474.70" width="2.4" height="2.4" fill="#fff" stroke="#222" stroke-width="0.6"/>
<rect x="363.20" y="496.60" width="2.4" height="2.4" fill="#fff" stroke="#222" stroke-width="0.6"/>
<circle cx="411.30" cy="533.20" r="1.3" fill="#111" stroke="none" stroke-width="0.6"/>
<text x="327.40" y="464.60" font-size="6.3" text-anchor="middle" font-style="italic" fill="#333">N.S.</text>
<line x1="322.60" y1="468.40" x2="332.20" y2="468.40" stroke="#555" stroke-width="0.8"/>
<text x="363.50" y="464.60" font-size="6.3" text-anchor="middle" font-style="italic" fill="#333">N.S.</text>
<line x1="358.70" y1="468.40" x2="368.30" y2="468.40" stroke="#555" stroke-width="0.8"/>
<text x="397.70" y="465.80" font-size="6.3" text-anchor="middle" font-style="italic" fill="#333">N.S.</text>
<line x1="392.90" y1="469.20" x2="402.50" y2="469.20" stroke="#555" stroke-width="0.8"/>
<text x="414.80" y="457.80" font-size="6.3" text-anchor="middle" font-style="italic" fill="#333">N.S.</text>
<line x1="410.00" y1="461.70" x2="419.60" y2="461.70" stroke="#555" stroke-width="0.8"/>
<text x="433.60" y="465.80" font-size="6.3" text-anchor="middle" font-style="italic" fill="#333">N.S.</text>
<line x1="428.80" y1="469.60" x2="438.40" y2="469.60" stroke="#555" stroke-width="0.8"/>
<text x="335.00" y="442.10" font-size="6.2" fill="#333"><tspan font-style="italic">P</tspan>&lt;</text>
<text x="335.00" y="450.20" font-size="6.2" fill="#333">0.0001</text>
<polygon points="338.90,454.39 339.46,455.52 340.71,455.70 339.81,456.58 340.02,457.83 338.90,457.24 337.79,457.83 338.00,456.58 337.10,455.70 338.35,455.52" fill="#222"/>
<polygon points="342.60,454.39 343.16,455.52 344.41,455.70 343.50,456.58 343.72,457.83 342.60,457.24 341.48,457.83 341.70,456.58 340.79,455.70 342.04,455.52" fill="#222"/>
<polygon points="346.30,454.39 346.85,455.52 348.10,455.70 347.20,456.58 347.41,457.83 346.30,457.24 345.18,457.83 345.39,456.58 344.49,455.70 345.74,455.52" fill="#222"/>
<polyline points="339.50,468.40 339.50,462.50 346.80,462.50 346.80,468.40" stroke="#333" stroke-width="0.8" fill="none"/>
<text x="370.10" y="442.10" font-size="6.2" fill="#333"><tspan font-style="italic">P</tspan>=</text>
<text x="370.10" y="450.20" font-size="6.2" fill="#333">0.0059</text>
<polygon points="376.25,454.80 376.84,455.99 378.16,456.18 377.21,457.11 377.43,458.42 376.25,457.80 375.08,458.42 375.30,457.11 374.35,456.18 375.67,455.99" fill="#222"/>
<polygon points="380.14,454.80 380.73,455.99 382.05,456.18 381.10,457.11 381.32,458.42 380.14,457.80 378.97,458.42 379.19,457.11 378.24,456.18 379.56,455.99" fill="#222"/>
<polyline points="374.30,468.40 374.30,462.00 381.60,462.00 381.60,468.40" stroke="#333" stroke-width="0.8" fill="none"/>
<rect x="402.20" y="435.40" width="51.40" height="15.20" fill="#fff" stroke="#333" stroke-width="0.8"/>
<rect x="406.40" y="437.80" width="10.10" height="3.80" fill="#707070" stroke="#333" stroke-width="0.6"/>
<rect x="410.2" y="438.6" width="2.2" height="2.2" fill="#111"/>
<rect x="406.40" y="444.40" width="10.10" height="3.60" fill="#fff" stroke="#333" stroke-width="0.6"/>
<rect x="410.2" y="445.1" width="2.2" height="2.2" fill="#fff" stroke="#333" stroke-width="0.4"/>
<text x="422.00" y="441.80" font-size="7.0" fill="#333">Vehicle</text>
<text x="422.00" y="448.30" font-size="7.0" fill="#333">GW-6471</text>
<text x="0.00" y="0.00" font-size="11.1" transform="translate(299.00,563.20) rotate(-90)">Relative gene expression</text>
<text x="0.00" y="0.00" font-size="8.23" text-anchor="end" font-style="italic" transform="translate(326.86,566.60) rotate(-45)">PPARA</text>
<text x="0.00" y="0.00" font-size="8.23" text-anchor="end" font-style="italic" transform="translate(345.30,566.41) rotate(-45)">ACOX1</text>
<text x="0.00" y="0.00" font-size="8.34" text-anchor="end" font-style="italic" transform="translate(363.64,567.25) rotate(-45)">PDK4</text>
<text x="0.00" y="0.00" font-size="7.94" text-anchor="end" font-style="italic" transform="translate(381.20,567.04) rotate(-45)">PLIN2</text>
<text x="0.00" y="0.00" font-size="8.11" text-anchor="end" font-style="italic" transform="translate(399.31,566.93) rotate(-45)">PLIN3</text>
<text x="0.00" y="0.00" font-size="8.18" text-anchor="end" font-style="italic" transform="translate(416.71,566.85) rotate(-45)">SLC15A1</text>
<text x="0.00" y="0.00" font-size="7.99" text-anchor="end" font-style="italic" transform="translate(434.09,566.98) rotate(-45)">SLC27A4</text>
</svg>
</body></html>
